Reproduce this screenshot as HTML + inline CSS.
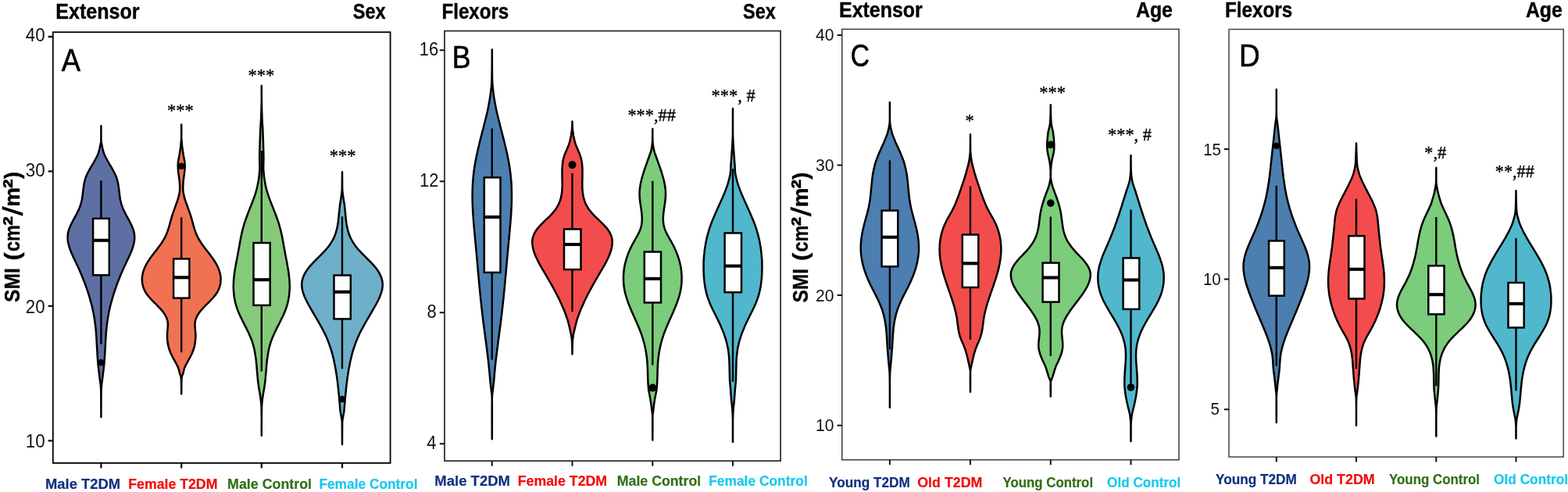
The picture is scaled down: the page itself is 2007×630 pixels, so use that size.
<!DOCTYPE html>
<html lang="en"><head><meta charset="utf-8"><title>SMI violin plots</title>
<style>html,body{margin:0;padding:0;background:#fff}body{width:2007px;height:630px;overflow:hidden}svg{display:block}.t{font-family:"Liberation Sans",sans-serif;font-weight:bold;fill:#000;stroke:#000;stroke-width:.4}.k{font-family:"Liberation Sans",sans-serif;fill:#111}.L{font-family:"Liberation Sans",sans-serif;fill:#000;stroke:#000;stroke-width:.6}.s{font-family:"Liberation Serif",serif;fill:#000;stroke:#000;stroke-width:.35}.x{font-family:"Liberation Sans",sans-serif;font-weight:bold;stroke-width:.2}.v{stroke:#000;stroke-width:2.5;stroke-linejoin:round}.w{stroke:#000;stroke-width:2.4;fill:none}.b{stroke:#000;stroke-width:2.5;fill:#fff}.m{stroke:#000;stroke-width:4.1;fill:none}</style></head><body>
<svg width="2007" height="630" viewBox="0 0 2007 630">
<rect width="2007" height="630" fill="#fff"/>
<g>
<path class="v" fill="#5e6fa3" d="M129.4 161.2C129.4 163.5 129.4 171.5 129.4 175.0C129.4 178.5 129.3 179.5 129.7 182.0C130.0 184.5 130.9 187.8 131.3 190.0C131.8 192.2 132.1 193.5 132.6 195.0C133.0 196.5 133.5 197.7 134.1 199.0C134.7 200.4 135.4 201.7 136.1 203.0C136.8 204.4 137.6 205.7 138.3 207.0C139.1 208.4 139.9 209.7 140.7 211.1C141.5 212.4 142.3 213.7 143.1 215.1C143.8 216.4 144.6 217.7 145.3 219.1C146.0 220.4 146.7 221.8 147.3 223.1C148.0 224.4 148.5 225.8 149.0 227.1C149.5 228.4 149.9 229.8 150.2 231.1C150.6 232.5 150.9 233.8 151.1 235.1C151.4 236.5 151.6 237.8 151.8 239.1C152.0 240.5 152.1 241.8 152.3 243.2C152.5 244.5 152.6 245.8 152.8 247.2C152.9 248.5 153.1 249.8 153.3 251.2C153.5 252.5 153.7 253.9 153.9 255.2C154.2 256.5 154.5 257.9 154.8 259.2C155.1 260.5 155.5 261.9 156.0 263.2C156.4 264.6 157.0 265.9 157.5 267.2C158.1 268.6 158.7 269.9 159.4 271.2C160.1 272.6 160.8 273.9 161.5 275.3C162.2 276.6 162.9 277.9 163.7 279.3C164.4 280.6 165.1 281.9 165.8 283.3C166.5 284.6 167.2 286.0 167.8 287.3C168.4 288.6 169.0 290.0 169.6 291.3C170.1 292.7 170.6 294.0 171.0 295.3C171.4 296.7 171.7 298.0 171.9 299.3C172.1 300.7 172.2 302.0 172.2 303.4C172.3 304.7 172.2 306.0 172.1 307.4C171.9 308.7 171.7 310.0 171.4 311.4C171.2 312.7 170.8 314.1 170.4 315.4C170.0 316.7 169.6 318.1 169.1 319.4C168.6 320.7 168.1 322.1 167.5 323.4C167.0 324.8 166.4 326.1 165.7 327.4C165.1 328.8 164.5 330.1 163.9 331.4C163.2 332.8 162.6 334.1 162.0 335.5C161.3 336.8 160.7 338.1 160.1 339.5C159.4 340.8 158.8 342.1 158.2 343.5C157.6 344.8 157.0 346.2 156.4 347.5C155.9 348.8 155.3 350.2 154.7 351.5C154.2 352.8 153.6 354.2 153.1 355.5C152.5 356.9 152.0 358.2 151.5 359.5C150.9 360.9 150.4 362.2 149.9 363.5C149.4 364.9 149.0 366.2 148.5 367.6C148.0 368.9 147.5 370.2 147.1 371.6C146.6 372.9 146.2 374.2 145.8 375.6C145.3 376.9 144.9 378.3 144.5 379.6C144.1 380.9 143.7 382.3 143.4 383.6C143.0 385.0 142.6 386.3 142.3 387.6C141.9 389.0 141.6 390.3 141.2 391.6C140.9 393.0 140.6 394.3 140.3 395.7C140.0 397.0 139.7 398.3 139.4 399.7C139.2 401.0 138.9 402.3 138.7 403.7C138.4 405.0 138.2 406.4 138.0 407.7C137.8 409.0 137.6 410.4 137.4 411.7C137.2 413.0 137.0 414.4 136.9 415.7C136.7 417.1 136.6 418.4 136.4 419.7C136.3 421.1 136.2 422.4 136.0 423.7C135.9 425.1 135.8 426.4 135.7 427.8C135.6 429.1 135.5 430.4 135.4 431.8C135.4 433.1 135.3 434.4 135.2 435.8C135.1 437.1 135.0 438.5 135.0 439.8C134.9 441.1 134.8 442.5 134.8 443.8C134.7 445.1 134.6 446.5 134.5 447.8C134.5 449.2 134.4 450.5 134.3 451.8C134.3 453.2 134.2 454.5 134.1 455.8C134.0 457.2 133.9 458.5 133.8 459.9C133.7 461.2 133.6 462.5 133.5 463.9C133.4 465.2 133.3 466.5 133.2 467.9C133.0 469.2 132.9 470.2 132.7 471.9C132.5 473.6 132.2 476.2 131.9 478.3C131.6 480.4 131.5 482.5 131.2 484.6C130.9 486.7 130.5 488.9 130.3 491.0C130.0 493.1 129.9 495.1 129.8 497.4C129.6 499.7 129.5 498.9 129.5 505.0C129.4 511.1 129.4 529.2 129.4 534.0C129.4 529.2 129.4 511.1 129.3 505.0C129.3 498.9 129.2 499.7 129.1 497.4C128.9 495.1 128.8 493.1 128.5 491.0C128.3 488.9 127.9 486.7 127.6 484.6C127.3 482.5 127.2 480.4 126.9 478.3C126.6 476.2 126.3 473.6 126.1 471.9C125.9 470.2 125.8 469.2 125.6 467.9C125.5 466.5 125.4 465.2 125.3 463.9C125.2 462.5 125.1 461.2 125.0 459.9C124.9 458.5 124.8 457.2 124.7 455.8C124.6 454.5 124.5 453.2 124.5 451.8C124.4 450.5 124.3 449.2 124.3 447.8C124.2 446.5 124.1 445.1 124.0 443.8C124.0 442.5 123.9 441.1 123.8 439.8C123.8 438.5 123.7 437.1 123.6 435.8C123.5 434.4 123.4 433.1 123.4 431.8C123.3 430.4 123.2 429.1 123.1 427.8C123.0 426.4 122.9 425.1 122.8 423.7C122.6 422.4 122.5 421.1 122.4 419.7C122.2 418.4 122.1 417.1 121.9 415.7C121.8 414.4 121.6 413.0 121.4 411.7C121.2 410.4 121.0 409.0 120.8 407.7C120.6 406.4 120.4 405.0 120.1 403.7C119.9 402.3 119.6 401.0 119.4 399.7C119.1 398.3 118.8 397.0 118.5 395.7C118.2 394.3 117.9 393.0 117.6 391.6C117.2 390.3 116.9 389.0 116.5 387.6C116.2 386.3 115.8 385.0 115.4 383.6C115.1 382.3 114.7 380.9 114.3 379.6C113.9 378.3 113.5 376.9 113.0 375.6C112.6 374.2 112.2 372.9 111.7 371.6C111.3 370.2 110.8 368.9 110.3 367.6C109.8 366.2 109.4 364.9 108.9 363.5C108.4 362.2 107.9 360.9 107.3 359.5C106.8 358.2 106.3 356.9 105.7 355.5C105.2 354.2 104.6 352.8 104.1 351.5C103.5 350.2 102.9 348.8 102.4 347.5C101.8 346.2 101.2 344.8 100.6 343.5C100.0 342.1 99.4 340.8 98.7 339.5C98.1 338.1 97.5 336.8 96.8 335.5C96.2 334.1 95.6 332.8 94.9 331.4C94.3 330.1 93.7 328.8 93.1 327.4C92.4 326.1 91.8 324.8 91.3 323.4C90.7 322.1 90.2 320.7 89.7 319.4C89.2 318.1 88.8 316.7 88.4 315.4C88.0 314.1 87.6 312.7 87.4 311.4C87.1 310.0 86.9 308.7 86.7 307.4C86.6 306.0 86.5 304.7 86.6 303.4C86.6 302.0 86.7 300.7 86.9 299.3C87.1 298.0 87.4 296.7 87.8 295.3C88.2 294.0 88.7 292.7 89.2 291.3C89.8 290.0 90.4 288.6 91.0 287.3C91.6 286.0 92.3 284.6 93.0 283.3C93.7 281.9 94.4 280.6 95.1 279.3C95.9 277.9 96.6 276.6 97.3 275.3C98.0 273.9 98.7 272.6 99.4 271.2C100.1 269.9 100.7 268.6 101.3 267.2C101.8 265.9 102.4 264.6 102.8 263.2C103.3 261.9 103.7 260.5 104.0 259.2C104.3 257.9 104.6 256.5 104.9 255.2C105.1 253.9 105.3 252.5 105.5 251.2C105.7 249.8 105.9 248.5 106.0 247.2C106.2 245.8 106.3 244.5 106.5 243.2C106.7 241.8 106.8 240.5 107.0 239.1C107.2 237.8 107.4 236.5 107.7 235.1C107.9 233.8 108.2 232.5 108.6 231.1C108.9 229.8 109.3 228.4 109.8 227.1C110.3 225.8 110.8 224.4 111.5 223.1C112.1 221.8 112.8 220.4 113.5 219.1C114.2 217.7 115.0 216.4 115.7 215.1C116.5 213.7 117.3 212.4 118.1 211.1C118.9 209.7 119.7 208.4 120.5 207.0C121.2 205.7 122.0 204.4 122.7 203.0C123.4 201.7 124.1 200.4 124.7 199.0C125.3 197.7 125.8 196.5 126.2 195.0C126.7 193.5 127.0 192.2 127.5 190.0C127.9 187.8 128.8 184.5 129.2 182.0C129.5 179.5 129.4 178.5 129.4 175.0C129.4 171.5 129.4 163.5 129.4 161.2Z"/>
<path class="w" d="M129.4 231.2V440.6"/>
<rect class="b" x="119.1" y="279.8" width="20.7" height="72.5"/>
<path class="m" d="M119.1 307.8H139.8"/>
<circle cx="129.4" cy="464.2" r="4.3" fill="#000"/>
<path class="v" fill="#f17252" d="M232.2 159.5C232.2 162.1 232.1 170.4 232.2 175.0C232.3 179.6 232.8 183.8 233.1 187.0C233.4 190.2 233.8 191.8 234.1 194.0C234.5 196.2 234.6 197.9 235.0 200.0C235.4 202.1 236.0 204.3 236.3 206.4C236.6 208.5 236.7 210.7 236.7 212.8C236.7 214.9 236.5 217.0 236.3 219.1C236.1 221.2 235.8 223.4 235.5 225.5C235.2 227.6 234.9 229.8 234.7 231.9C234.5 234.0 234.3 236.2 234.3 238.3C234.2 240.4 234.2 242.5 234.4 244.6C234.6 246.7 235.2 249.3 235.6 251.0C236.0 252.7 236.3 253.7 236.7 255.0C237.1 256.4 237.6 257.7 238.0 259.0C238.5 260.4 239.0 261.7 239.5 263.0C240.0 264.4 240.5 265.7 240.9 267.1C241.4 268.4 241.9 269.7 242.4 271.1C242.9 272.4 243.3 273.8 243.8 275.1C244.2 276.4 244.6 277.8 245.0 279.1C245.4 280.5 245.8 281.8 246.1 283.1C246.5 284.5 246.8 285.8 247.2 287.1C247.6 288.5 247.9 289.8 248.3 291.2C248.7 292.5 249.1 293.8 249.6 295.2C250.1 296.5 250.5 297.9 251.1 299.2C251.6 300.5 252.2 301.9 252.9 303.2C253.5 304.6 254.3 305.9 255.1 307.2C255.9 308.6 256.7 309.9 257.6 311.2C258.5 312.6 259.5 313.9 260.5 315.3C261.5 316.6 262.5 317.9 263.5 319.3C264.5 320.6 265.6 322.0 266.6 323.3C267.6 324.6 268.7 326.0 269.7 327.3C270.7 328.6 271.7 330.0 272.6 331.3C273.5 332.7 274.4 334.0 275.3 335.3C276.1 336.7 276.9 338.0 277.6 339.4C278.3 340.7 278.9 342.0 279.5 343.4C280.0 344.7 280.5 346.1 280.9 347.4C281.3 348.7 281.7 350.1 281.9 351.4C282.2 352.7 282.4 354.1 282.5 355.4C282.6 356.8 282.6 358.1 282.5 359.4C282.4 360.8 282.3 362.1 282.1 363.5C281.8 364.8 281.5 366.1 281.1 367.5C280.6 368.8 280.1 370.2 279.5 371.5C278.9 372.8 278.1 374.2 277.3 375.5C276.4 376.8 275.4 378.2 274.3 379.5C273.2 380.9 272.0 382.2 270.7 383.5C269.4 384.9 268.0 386.2 266.7 387.6C265.4 388.9 264.0 390.2 262.7 391.6C261.4 392.9 260.1 394.3 258.9 395.6C257.8 396.9 256.7 398.3 255.7 399.6C254.7 400.9 253.8 402.3 253.0 403.6C252.2 405.0 251.5 406.3 251.0 407.6C250.5 409.0 250.1 410.3 249.8 411.7C249.6 413.0 249.5 414.3 249.5 415.7C249.5 417.0 249.6 418.3 249.7 419.7C249.8 421.0 250.0 422.4 250.1 423.7C250.2 425.0 250.3 426.4 250.3 427.7C250.4 429.1 250.4 430.4 250.4 431.7C250.3 433.1 250.2 434.4 250.1 435.8C250.0 437.1 249.8 438.4 249.6 439.8C249.4 441.1 249.1 442.4 248.8 443.8C248.4 445.1 248.0 446.5 247.6 447.8C247.1 449.1 246.6 450.5 246.1 451.8C245.5 453.2 244.8 454.5 244.2 455.8C243.5 457.2 242.7 458.5 242.0 459.9C241.3 461.2 240.5 462.5 239.8 463.9C239.1 465.2 238.3 466.5 237.7 467.9C237.0 469.2 236.5 470.2 235.9 471.9C235.4 473.6 234.8 476.2 234.3 478.3C233.7 480.4 232.9 480.2 232.5 484.6C232.2 489.0 232.3 501.1 232.2 504.4C232.1 501.1 232.2 489.0 231.8 484.6C231.5 480.2 230.7 480.4 230.1 478.3C229.6 476.2 229.0 473.6 228.5 471.9C227.9 470.2 227.4 469.2 226.7 467.9C226.1 466.5 225.3 465.2 224.6 463.9C223.9 462.5 223.1 461.2 222.4 459.9C221.7 458.5 220.9 457.2 220.2 455.8C219.6 454.5 218.9 453.2 218.3 451.8C217.8 450.5 217.3 449.1 216.8 447.8C216.4 446.5 216.0 445.1 215.6 443.8C215.3 442.4 215.0 441.1 214.8 439.8C214.6 438.4 214.4 437.1 214.3 435.8C214.2 434.4 214.1 433.1 214.0 431.7C214.0 430.4 214.0 429.1 214.1 427.7C214.1 426.4 214.2 425.0 214.3 423.7C214.4 422.4 214.6 421.0 214.7 419.7C214.8 418.3 214.9 417.0 214.9 415.7C214.9 414.3 214.8 413.0 214.6 411.7C214.3 410.3 213.9 409.0 213.4 407.6C212.9 406.3 212.2 405.0 211.4 403.6C210.6 402.3 209.7 400.9 208.7 399.6C207.7 398.3 206.6 396.9 205.5 395.6C204.3 394.3 203.0 392.9 201.7 391.6C200.4 390.2 199.0 388.9 197.7 387.6C196.4 386.2 195.0 384.9 193.7 383.5C192.4 382.2 191.2 380.9 190.1 379.5C189.0 378.2 188.0 376.8 187.1 375.5C186.3 374.2 185.5 372.8 184.9 371.5C184.3 370.2 183.8 368.8 183.3 367.5C182.9 366.1 182.6 364.8 182.3 363.5C182.1 362.1 182.0 360.8 181.9 359.4C181.8 358.1 181.8 356.8 181.9 355.4C182.0 354.1 182.2 352.7 182.5 351.4C182.7 350.1 183.1 348.7 183.5 347.4C183.9 346.1 184.4 344.7 184.9 343.4C185.5 342.0 186.1 340.7 186.8 339.4C187.5 338.0 188.3 336.7 189.1 335.3C190.0 334.0 190.9 332.7 191.8 331.3C192.7 330.0 193.7 328.6 194.7 327.3C195.7 326.0 196.8 324.6 197.8 323.3C198.8 322.0 199.9 320.6 200.9 319.3C201.9 317.9 202.9 316.6 203.9 315.3C204.9 313.9 205.9 312.6 206.8 311.2C207.7 309.9 208.5 308.6 209.3 307.2C210.1 305.9 210.9 304.6 211.5 303.2C212.2 301.9 212.8 300.5 213.3 299.2C213.9 297.9 214.3 296.5 214.8 295.2C215.3 293.8 215.7 292.5 216.1 291.2C216.5 289.8 216.8 288.5 217.2 287.1C217.6 285.8 217.9 284.5 218.3 283.1C218.6 281.8 219.0 280.5 219.4 279.1C219.8 277.8 220.2 276.4 220.6 275.1C221.1 273.8 221.5 272.4 222.0 271.1C222.5 269.7 223.0 268.4 223.5 267.1C223.9 265.7 224.4 264.4 224.9 263.0C225.4 261.7 225.9 260.4 226.4 259.0C226.8 257.7 227.3 256.4 227.7 255.0C228.1 253.7 228.4 252.7 228.8 251.0C229.2 249.3 229.8 246.7 230.0 244.6C230.2 242.5 230.2 240.4 230.1 238.3C230.1 236.2 229.9 234.0 229.7 231.9C229.5 229.8 229.2 227.6 228.9 225.5C228.6 223.4 228.3 221.2 228.1 219.1C227.9 217.0 227.7 214.9 227.7 212.8C227.7 210.7 227.8 208.5 228.1 206.4C228.4 204.3 229.0 202.1 229.4 200.0C229.8 197.9 229.9 196.2 230.3 194.0C230.6 191.8 231.0 190.2 231.3 187.0C231.6 183.8 232.1 179.6 232.2 175.0C232.3 170.4 232.2 162.1 232.2 159.5Z"/>
<path class="w" d="M232.2 278.4V451.2"/>
<rect class="b" x="222.1" y="331.4" width="20.3" height="50.3"/>
<path class="m" d="M222.1 355.3H242.4"/>
<circle cx="232.2" cy="212.8" r="4.3" fill="#000"/>
<path class="v" fill="#86c97b" d="M334.8 109.7C334.8 113.1 334.7 123.3 334.9 130.0C335.0 136.7 335.2 144.4 335.4 150.0C335.6 155.6 336.0 159.2 336.2 163.5C336.4 167.8 336.6 171.8 336.7 176.0C336.9 180.2 337.0 184.6 337.1 188.8C337.2 193.1 337.4 197.3 337.4 201.5C337.4 205.7 337.2 211.4 337.2 214.2C337.1 217.0 337.2 216.9 337.3 218.2C337.4 219.6 337.5 220.9 337.6 222.2C337.7 223.6 337.9 224.9 338.0 226.3C338.2 227.6 338.4 228.9 338.6 230.3C338.8 231.6 339.0 233.0 339.3 234.3C339.6 235.6 339.8 237.0 340.1 238.3C340.4 239.7 340.8 241.0 341.1 242.3C341.5 243.7 341.8 245.0 342.2 246.3C342.6 247.7 343.0 249.0 343.5 250.4C343.9 251.7 344.4 253.0 344.9 254.4C345.4 255.7 345.9 257.1 346.4 258.4C346.9 259.7 347.4 261.1 348.0 262.4C348.5 263.8 349.0 265.1 349.6 266.4C350.1 267.8 350.6 269.1 351.2 270.5C351.7 271.8 352.2 273.1 352.7 274.5C353.2 275.8 353.7 277.2 354.2 278.5C354.7 279.8 355.2 281.2 355.7 282.5C356.1 283.9 356.6 285.2 357.0 286.5C357.4 287.9 357.8 289.2 358.1 290.6C358.5 291.9 358.9 293.2 359.2 294.6C359.5 295.9 359.8 297.3 360.1 298.6C360.4 299.9 360.7 301.3 361.0 302.6C361.3 303.9 361.5 305.3 361.8 306.6C362.0 308.0 362.3 309.3 362.5 310.6C362.8 312.0 363.0 313.3 363.2 314.7C363.5 316.0 363.7 317.3 364.0 318.7C364.2 320.0 364.4 321.4 364.7 322.7C364.9 324.0 365.2 325.4 365.4 326.7C365.7 328.1 366.0 329.4 366.2 330.7C366.5 332.1 366.7 333.4 367.0 334.8C367.2 336.1 367.5 337.4 367.7 338.8C368.0 340.1 368.2 341.5 368.4 342.8C368.7 344.1 368.9 345.5 369.1 346.8C369.3 348.2 369.5 349.5 369.6 350.8C369.8 352.2 370.0 353.5 370.1 354.9C370.3 356.2 370.4 357.5 370.5 358.9C370.6 360.2 370.6 361.5 370.7 362.9C370.7 364.2 370.8 365.6 370.8 366.9C370.8 368.2 370.7 369.6 370.7 370.9C370.6 372.3 370.5 373.6 370.4 374.9C370.3 376.3 370.1 377.6 370.0 379.0C369.8 380.3 369.6 381.6 369.3 383.0C369.1 384.3 368.8 385.7 368.5 387.0C368.2 388.3 367.8 389.7 367.4 391.0C367.0 392.4 366.6 393.7 366.1 395.0C365.7 396.4 365.2 397.7 364.6 399.1C364.1 400.4 363.5 401.7 362.9 403.1C362.3 404.4 361.7 405.8 361.0 407.1C360.4 408.4 359.7 409.8 359.0 411.1C358.4 412.4 357.7 413.8 357.0 415.1C356.3 416.5 355.6 417.8 354.9 419.1C354.2 420.5 353.6 421.8 352.9 423.2C352.3 424.5 351.6 425.8 351.0 427.2C350.4 428.5 349.8 429.9 349.2 431.2C348.7 432.5 348.1 433.9 347.6 435.2C347.1 436.6 346.7 437.9 346.3 439.2C345.8 440.6 345.5 441.9 345.1 443.3C344.8 444.6 344.4 445.9 344.1 447.3C343.8 448.6 343.6 450.0 343.3 451.3C343.1 452.6 342.9 454.0 342.7 455.3C342.4 456.7 342.3 458.0 342.1 459.3C341.9 460.7 341.8 462.0 341.6 463.4C341.5 464.7 341.4 466.0 341.2 467.4C341.1 468.7 341.0 470.0 340.9 471.4C340.8 472.7 340.7 474.1 340.6 475.4C340.4 476.7 340.3 478.1 340.2 479.4C340.1 480.8 340.0 482.1 339.9 483.4C339.7 484.8 339.6 486.1 339.5 487.5C339.3 488.8 339.2 490.1 339.0 491.5C338.8 492.8 338.7 493.8 338.4 495.5C338.2 497.2 337.7 499.8 337.3 501.9C336.9 504.0 336.6 506.2 336.3 508.3C336.0 510.4 335.8 512.5 335.5 514.6C335.3 516.7 335.2 517.6 335.1 521.0C334.9 524.4 334.9 528.9 334.9 535.0C334.8 541.1 334.8 553.9 334.8 557.7C334.8 553.9 334.8 541.1 334.8 535.0C334.7 528.9 334.7 524.4 334.6 521.0C334.4 517.6 334.3 516.7 334.1 514.6C333.8 512.5 333.6 510.4 333.3 508.3C333.0 506.2 332.7 504.0 332.3 501.9C331.9 499.8 331.4 497.2 331.2 495.5C330.9 493.8 330.8 492.8 330.6 491.5C330.4 490.1 330.3 488.8 330.1 487.5C330.0 486.1 329.9 484.8 329.7 483.4C329.6 482.1 329.5 480.8 329.4 479.4C329.3 478.1 329.2 476.7 329.0 475.4C328.9 474.1 328.8 472.7 328.7 471.4C328.6 470.0 328.5 468.7 328.4 467.4C328.2 466.0 328.1 464.7 328.0 463.4C327.8 462.0 327.7 460.7 327.5 459.3C327.3 458.0 327.2 456.7 326.9 455.3C326.7 454.0 326.5 452.6 326.3 451.3C326.0 450.0 325.8 448.6 325.5 447.3C325.2 445.9 324.8 444.6 324.5 443.3C324.1 441.9 323.8 440.6 323.3 439.2C322.9 437.9 322.5 436.6 322.0 435.2C321.5 433.9 320.9 432.5 320.4 431.2C319.8 429.9 319.2 428.5 318.6 427.2C318.0 425.8 317.3 424.5 316.7 423.2C316.0 421.8 315.4 420.5 314.7 419.1C314.0 417.8 313.3 416.5 312.6 415.1C311.9 413.8 311.2 412.4 310.6 411.1C309.9 409.8 309.2 408.4 308.6 407.1C307.9 405.8 307.3 404.4 306.7 403.1C306.1 401.7 305.5 400.4 305.0 399.1C304.4 397.7 303.9 396.4 303.5 395.0C303.0 393.7 302.6 392.4 302.2 391.0C301.8 389.7 301.4 388.3 301.1 387.0C300.8 385.7 300.5 384.3 300.3 383.0C300.0 381.6 299.8 380.3 299.6 379.0C299.5 377.6 299.3 376.3 299.2 374.9C299.1 373.6 299.0 372.3 298.9 370.9C298.9 369.6 298.8 368.2 298.8 366.9C298.8 365.6 298.9 364.2 298.9 362.9C299.0 361.5 299.0 360.2 299.1 358.9C299.2 357.5 299.3 356.2 299.5 354.9C299.6 353.5 299.8 352.2 300.0 350.8C300.1 349.5 300.3 348.2 300.5 346.8C300.7 345.5 300.9 344.1 301.2 342.8C301.4 341.5 301.6 340.1 301.9 338.8C302.1 337.4 302.4 336.1 302.6 334.8C302.9 333.4 303.1 332.1 303.4 330.7C303.6 329.4 303.9 328.1 304.2 326.7C304.4 325.4 304.7 324.0 304.9 322.7C305.2 321.4 305.4 320.0 305.6 318.7C305.9 317.3 306.1 316.0 306.4 314.7C306.6 313.3 306.8 312.0 307.1 310.6C307.3 309.3 307.6 308.0 307.8 306.6C308.1 305.3 308.3 303.9 308.6 302.6C308.9 301.3 309.2 299.9 309.5 298.6C309.8 297.3 310.1 295.9 310.4 294.6C310.7 293.2 311.1 291.9 311.5 290.6C311.8 289.2 312.2 287.9 312.6 286.5C313.0 285.2 313.5 283.9 313.9 282.5C314.4 281.2 314.9 279.8 315.4 278.5C315.9 277.2 316.4 275.8 316.9 274.5C317.4 273.1 317.9 271.8 318.4 270.5C319.0 269.1 319.5 267.8 320.0 266.4C320.6 265.1 321.1 263.8 321.6 262.4C322.2 261.1 322.7 259.7 323.2 258.4C323.7 257.1 324.2 255.7 324.7 254.4C325.2 253.0 325.7 251.7 326.1 250.4C326.6 249.0 327.0 247.7 327.4 246.3C327.8 245.0 328.1 243.7 328.5 242.3C328.8 241.0 329.2 239.7 329.5 238.3C329.8 237.0 330.0 235.6 330.3 234.3C330.6 233.0 330.8 231.6 331.0 230.3C331.2 228.9 331.4 227.6 331.6 226.3C331.7 224.9 331.9 223.6 332.0 222.2C332.1 220.9 332.2 219.6 332.3 218.2C332.4 216.9 332.5 217.0 332.4 214.2C332.4 211.4 332.2 205.7 332.2 201.5C332.2 197.3 332.4 193.1 332.5 188.8C332.6 184.6 332.7 180.2 332.9 176.0C333.0 171.8 333.2 167.8 333.4 163.5C333.6 159.2 334.0 155.6 334.2 150.0C334.4 144.4 334.6 136.7 334.8 130.0C334.9 123.3 334.8 113.1 334.8 109.7Z"/>
<path class="w" d="M334.8 192.9V475.4"/>
<rect class="b" x="324.5" y="311.0" width="21.2" height="79.9"/>
<path class="m" d="M324.5 358.2H345.7"/>
<path class="v" fill="#6eafc9" d="M438.0 220.3C438.0 221.9 438.0 226.2 438.1 230.0C438.1 233.8 438.1 239.6 438.2 242.8C438.4 246.0 438.6 247.0 438.9 249.1C439.1 251.2 439.5 253.4 439.8 255.5C440.1 257.6 440.6 260.2 440.9 261.9C441.1 263.6 441.2 264.6 441.3 265.9C441.5 267.2 441.6 268.5 441.7 269.9C441.9 271.2 442.0 272.5 442.1 273.9C442.2 275.2 442.3 276.5 442.5 277.8C442.6 279.2 442.7 280.5 442.9 281.8C443.0 283.2 443.2 284.5 443.4 285.8C443.6 287.1 443.8 288.5 444.1 289.8C444.4 291.1 444.6 292.5 445.0 293.8C445.3 295.1 445.7 296.4 446.1 297.8C446.5 299.1 447.0 300.4 447.5 301.8C448.0 303.1 448.6 304.4 449.3 305.7C450.0 307.1 450.7 308.4 451.5 309.7C452.3 311.1 453.2 312.4 454.1 313.7C455.1 315.0 456.1 316.4 457.2 317.7C458.3 319.0 459.5 320.4 460.7 321.7C461.9 323.0 463.2 324.3 464.5 325.7C465.8 327.0 467.1 328.3 468.5 329.7C469.8 331.0 471.2 332.3 472.5 333.7C473.8 335.0 475.1 336.3 476.3 337.6C477.6 339.0 478.8 340.3 479.9 341.6C481.0 343.0 482.0 344.3 482.9 345.6C483.9 346.9 484.7 348.3 485.5 349.6C486.2 350.9 486.9 352.3 487.4 353.6C488.0 354.9 488.5 356.2 488.8 357.6C489.2 358.9 489.4 360.2 489.6 361.6C489.7 362.9 489.8 364.2 489.7 365.5C489.7 366.9 489.5 368.2 489.3 369.5C489.1 370.9 488.8 372.2 488.4 373.5C488.1 374.8 487.6 376.2 487.1 377.5C486.6 378.8 486.1 380.2 485.5 381.5C484.9 382.8 484.2 384.1 483.6 385.5C482.9 386.8 482.2 388.1 481.5 389.5C480.8 390.8 480.0 392.1 479.3 393.4C478.5 394.8 477.8 396.1 477.0 397.4C476.2 398.8 475.5 400.1 474.7 401.4C473.9 402.7 473.1 404.1 472.3 405.4C471.6 406.7 470.8 408.1 470.0 409.4C469.2 410.7 468.5 412.0 467.7 413.4C466.9 414.7 466.2 416.0 465.4 417.4C464.7 418.7 464.0 420.0 463.3 421.3C462.6 422.7 461.9 424.0 461.2 425.3C460.6 426.7 459.9 428.0 459.3 429.3C458.7 430.6 458.1 432.0 457.5 433.3C457.0 434.6 456.4 436.0 455.9 437.3C455.4 438.6 454.9 439.9 454.4 441.3C454.0 442.6 453.5 443.9 453.1 445.3C452.6 446.6 452.2 447.9 451.8 449.2C451.4 450.6 451.1 451.9 450.7 453.2C450.3 454.6 450.0 455.9 449.7 457.2C449.3 458.6 449.0 459.9 448.7 461.2C448.4 462.5 448.1 463.9 447.9 465.2C447.6 466.5 447.3 467.9 447.1 469.2C446.8 470.5 446.6 471.8 446.3 473.2C446.1 474.5 445.9 475.8 445.7 477.2C445.5 478.5 445.3 479.8 445.1 481.1C444.9 482.5 444.7 483.8 444.5 485.1C444.3 486.5 444.2 487.8 444.0 489.1C443.8 490.4 443.7 491.8 443.5 493.1C443.4 494.4 443.2 495.8 443.1 497.1C443.0 498.4 442.8 499.7 442.7 501.1C442.6 502.4 442.4 503.7 442.3 505.1C442.2 506.4 442.1 507.7 441.9 509.0C441.8 510.4 441.7 511.7 441.6 513.0C441.5 514.4 441.4 515.7 441.2 517.0C441.1 518.3 441.0 519.3 440.9 521.0C440.7 522.7 440.6 525.3 440.3 527.4C440.0 529.5 439.5 531.7 439.1 533.8C438.8 535.9 438.4 537.5 438.2 540.2C438.1 542.9 438.1 545.2 438.1 550.0C438.0 554.8 438.0 565.8 438.0 569.0C438.0 565.8 438.0 554.8 437.9 550.0C437.9 545.2 437.9 542.9 437.8 540.2C437.6 537.5 437.2 535.9 436.9 533.8C436.5 531.7 436.0 529.5 435.7 527.4C435.4 525.3 435.3 522.7 435.1 521.0C435.0 519.3 434.9 518.3 434.8 517.0C434.6 515.7 434.5 514.4 434.4 513.0C434.3 511.7 434.2 510.4 434.1 509.0C433.9 507.7 433.8 506.4 433.7 505.1C433.6 503.7 433.4 502.4 433.3 501.1C433.2 499.7 433.0 498.4 432.9 497.1C432.8 495.8 432.6 494.4 432.5 493.1C432.3 491.8 432.2 490.4 432.0 489.1C431.8 487.8 431.7 486.5 431.5 485.1C431.3 483.8 431.1 482.5 430.9 481.1C430.7 479.8 430.5 478.5 430.3 477.2C430.1 475.8 429.9 474.5 429.7 473.2C429.4 471.8 429.2 470.5 428.9 469.2C428.7 467.9 428.4 466.5 428.1 465.2C427.9 463.9 427.6 462.5 427.3 461.2C427.0 459.9 426.7 458.6 426.3 457.2C426.0 455.9 425.7 454.6 425.3 453.2C424.9 451.9 424.6 450.6 424.2 449.2C423.8 447.9 423.4 446.6 422.9 445.3C422.5 443.9 422.0 442.6 421.6 441.3C421.1 439.9 420.6 438.6 420.1 437.3C419.6 436.0 419.0 434.6 418.5 433.3C417.9 432.0 417.3 430.6 416.7 429.3C416.1 428.0 415.4 426.7 414.8 425.3C414.1 424.0 413.4 422.7 412.7 421.3C412.0 420.0 411.3 418.7 410.6 417.4C409.8 416.0 409.1 414.7 408.3 413.4C407.5 412.0 406.8 410.7 406.0 409.4C405.2 408.1 404.4 406.7 403.7 405.4C402.9 404.1 402.1 402.7 401.3 401.4C400.5 400.1 399.8 398.8 399.0 397.4C398.2 396.1 397.5 394.8 396.7 393.4C396.0 392.1 395.2 390.8 394.5 389.5C393.8 388.1 393.1 386.8 392.4 385.5C391.8 384.1 391.1 382.8 390.5 381.5C389.9 380.2 389.4 378.8 388.9 377.5C388.4 376.2 387.9 374.8 387.6 373.5C387.2 372.2 386.9 370.9 386.7 369.5C386.5 368.2 386.3 366.9 386.3 365.5C386.2 364.2 386.3 362.9 386.4 361.6C386.6 360.2 386.8 358.9 387.2 357.6C387.5 356.2 388.0 354.9 388.6 353.6C389.1 352.3 389.8 350.9 390.5 349.6C391.3 348.3 392.1 346.9 393.1 345.6C394.0 344.3 395.0 343.0 396.1 341.6C397.2 340.3 398.4 339.0 399.7 337.6C400.9 336.3 402.2 335.0 403.5 333.7C404.8 332.3 406.2 331.0 407.5 329.7C408.9 328.3 410.2 327.0 411.5 325.7C412.8 324.3 414.1 323.0 415.3 321.7C416.5 320.4 417.7 319.0 418.8 317.7C419.9 316.4 420.9 315.0 421.9 313.7C422.8 312.4 423.7 311.1 424.5 309.7C425.3 308.4 426.0 307.1 426.7 305.7C427.4 304.4 428.0 303.1 428.5 301.8C429.0 300.4 429.5 299.1 429.9 297.8C430.3 296.4 430.7 295.1 431.0 293.8C431.4 292.5 431.6 291.1 431.9 289.8C432.2 288.5 432.4 287.1 432.6 285.8C432.8 284.5 433.0 283.2 433.1 281.8C433.3 280.5 433.4 279.2 433.5 277.8C433.7 276.5 433.8 275.2 433.9 273.9C434.0 272.5 434.1 271.2 434.3 269.9C434.4 268.5 434.5 267.2 434.7 265.9C434.8 264.6 434.9 263.6 435.1 261.9C435.4 260.2 435.9 257.6 436.2 255.5C436.5 253.4 436.9 251.2 437.1 249.1C437.4 247.0 437.6 246.0 437.8 242.8C437.9 239.6 437.9 233.8 437.9 230.0C438.0 226.2 438.0 221.9 438.0 220.3Z"/>
<path class="w" d="M438.0 277.2V472.3"/>
<rect class="b" x="427.5" y="352.5" width="21.3" height="55.9"/>
<path class="m" d="M427.5 373.8H448.8"/>
<circle cx="438.0" cy="511.1" r="4.3" fill="#000"/>
<rect x="67.8" y="41.2" width="431.8" height="551.7" fill="none" stroke="#0a0a0a" stroke-width="1.9"/>
<path d="M67.8 47.0h-6.2M67.8 219.4h-6.2M67.8 391.9h-6.2M67.8 564.3h-6.2M129.4 592.9v6.5M232.2 592.9v6.5M334.8 592.9v6.5M438.0 592.9v6.5" stroke="#111" stroke-width="2.3" fill="none"/>
<text class="t" transform="translate(71.20 23.80) scale(0.9330 1)" font-size="26.9">Extensor</text>
<text class="t" transform="translate(451.86 23.80) scale(0.8737 1)" font-size="26.9">Sex</text>
<text class="L" transform="translate(78.82 90.50) scale(0.8821 1)" font-size="41.3">A</text>
<text class="k" transform="translate(32.85 53.45) scale(0.9300 1)" font-size="24">40</text>
<text class="k" transform="translate(32.85 226.35) scale(0.9300 1)" font-size="24">30</text>
<text class="k" transform="translate(32.85 400.65) scale(0.9300 1)" font-size="24">20</text>
<text class="k" transform="translate(32.85 572.75) scale(0.9300 1)" font-size="24">10</text>
<text class="s" transform="translate(213.93 148.50)" font-size="22.5">***</text>
<text class="s" transform="translate(317.52 103.80)" font-size="22.5">***</text>
<text class="s" transform="translate(421.73 207.40)" font-size="22.5">***</text>
<text class="x" transform="translate(58.06 626.00) scale(1.0440 1)" font-size="17.6" fill="#12307f" stroke="#12307f">Male T2DM</text>
<text class="x" transform="translate(164.29 626.00) scale(1.0067 1)" font-size="17.6" fill="#f20a0a" stroke="#f20a0a">Female T2DM</text>
<text class="x" transform="translate(291.09 626.00) scale(1.0134 1)" font-size="17.6" fill="#316f15" stroke="#316f15">Male Control</text>
<text class="x" transform="translate(408.42 626.00) scale(0.9841 1)" font-size="17.6" fill="#18c8ee" stroke="#18c8ee">Female Control</text>
<text class="t" transform="translate(24.60 0) rotate(-90)" xml:space="preserve"><tspan x="-386.94" y="0.00" font-size="28" textLength="43.70" lengthAdjust="spacingAndGlyphs">SMI</tspan><tspan font-size="28"> </tspan><tspan x="-333.49" y="0.00" font-size="28" textLength="10.40" lengthAdjust="spacingAndGlyphs">(</tspan><tspan x="-321.94" y="0.00" font-size="28" textLength="33.87" lengthAdjust="spacingAndGlyphs">cm</tspan><tspan x="-289.06" y="2.00" font-size="32" textLength="12.02" lengthAdjust="spacingAndGlyphs">²</tspan><tspan x="-276.30" y="4.00" font-size="35" textLength="11.87" lengthAdjust="spacingAndGlyphs" font-weight="normal" stroke-width=".6">/</tspan><tspan x="-264.74" y="0.00" font-size="28" textLength="24.79" lengthAdjust="spacingAndGlyphs">m</tspan><tspan x="-241.16" y="2.00" font-size="32" textLength="12.02" lengthAdjust="spacingAndGlyphs">²</tspan><tspan x="-229.06" y="0.00" font-size="28" textLength="9.11" lengthAdjust="spacingAndGlyphs">)</tspan></text>
</g>
<g>
<path class="v" fill="#4c7eaf" d="M629.8 63.6C629.8 69.6 629.9 91.7 630.0 99.8C630.2 107.9 630.4 108.0 630.8 112.2C631.2 116.4 631.7 120.5 632.3 124.7C633.0 128.9 634.1 134.4 634.6 137.2C635.1 140.0 635.1 139.9 635.4 141.2C635.7 142.6 636.0 143.9 636.3 145.2C636.6 146.6 637.0 147.9 637.3 149.3C637.6 150.6 637.9 151.9 638.3 153.3C638.6 154.6 638.9 156.0 639.3 157.3C639.6 158.6 640.0 160.0 640.3 161.3C640.7 162.7 641.0 164.0 641.3 165.3C641.7 166.7 642.0 168.0 642.4 169.4C642.7 170.7 643.1 172.1 643.4 173.4C643.8 174.7 644.1 176.1 644.5 177.4C644.8 178.8 645.1 180.1 645.5 181.4C645.8 182.8 646.1 184.1 646.4 185.5C646.8 186.8 647.1 188.1 647.4 189.5C647.7 190.8 648.0 192.2 648.3 193.5C648.6 194.8 648.9 196.2 649.2 197.5C649.5 198.9 649.8 200.2 650.0 201.5C650.3 202.9 650.6 204.2 650.8 205.6C651.1 206.9 651.3 208.2 651.5 209.6C651.8 210.9 652.0 212.3 652.2 213.6C652.4 214.9 652.6 216.3 652.8 217.6C653.0 219.0 653.2 220.3 653.3 221.6C653.5 223.0 653.6 224.3 653.8 225.7C653.9 227.0 654.0 228.4 654.1 229.7C654.3 231.0 654.4 232.4 654.4 233.7C654.5 235.1 654.6 236.4 654.7 237.7C654.7 239.1 654.8 240.4 654.8 241.8C654.9 243.1 654.9 244.4 654.9 245.8C654.9 247.1 655.0 248.5 655.0 249.8C655.0 251.1 655.0 252.5 654.9 253.8C654.9 255.2 654.9 256.5 654.9 257.8C654.8 259.2 654.8 260.5 654.8 261.9C654.7 263.2 654.7 264.5 654.6 265.9C654.5 267.2 654.5 268.6 654.4 269.9C654.3 271.2 654.2 272.6 654.2 273.9C654.1 275.3 654.0 276.6 653.9 277.9C653.8 279.3 653.7 280.6 653.6 282.0C653.5 283.3 653.4 284.7 653.3 286.0C653.2 287.3 653.0 288.7 652.9 290.0C652.8 291.4 652.7 292.7 652.6 294.0C652.5 295.4 652.3 296.7 652.2 298.1C652.1 299.4 652.0 300.7 651.8 302.1C651.7 303.4 651.6 304.8 651.5 306.1C651.3 307.4 651.2 308.8 651.1 310.1C650.9 311.5 650.8 312.8 650.7 314.1C650.6 315.5 650.5 316.8 650.3 318.2C650.2 319.5 650.1 320.8 650.0 322.2C649.8 323.5 649.7 324.9 649.6 326.2C649.5 327.5 649.4 328.9 649.2 330.2C649.1 331.6 649.0 332.9 648.9 334.2C648.8 335.6 648.7 336.9 648.5 338.3C648.4 339.6 648.3 341.0 648.2 342.3C648.1 343.6 647.9 345.0 647.8 346.3C647.7 347.7 647.6 349.0 647.5 350.3C647.3 351.7 647.2 353.0 647.1 354.4C647.0 355.7 646.9 357.0 646.7 358.4C646.6 359.7 646.5 361.1 646.4 362.4C646.2 363.7 646.1 365.1 646.0 366.4C645.9 367.8 645.7 369.1 645.6 370.4C645.5 371.8 645.3 373.1 645.2 374.5C645.1 375.8 645.0 377.1 644.8 378.5C644.7 379.8 644.5 381.2 644.4 382.5C644.3 383.8 644.1 385.2 644.0 386.5C643.8 387.9 643.7 389.2 643.5 390.5C643.4 391.9 643.3 393.2 643.1 394.6C642.9 395.9 642.8 397.3 642.6 398.6C642.5 399.9 642.3 401.3 642.2 402.6C642.0 404.0 641.8 405.3 641.7 406.6C641.5 408.0 641.3 409.3 641.2 410.7C641.0 412.0 640.8 413.3 640.7 414.7C640.5 416.0 640.3 417.4 640.1 418.7C640.0 420.0 639.8 421.4 639.6 422.7C639.4 424.1 639.3 425.4 639.1 426.7C638.9 428.1 638.7 429.4 638.6 430.8C638.4 432.1 638.2 433.4 638.0 434.8C637.8 436.1 637.7 437.5 637.5 438.8C637.3 440.1 637.2 441.5 637.0 442.8C636.8 444.2 636.6 445.5 636.5 446.8C636.3 448.2 636.1 449.5 636.0 450.9C635.8 452.2 635.6 453.6 635.5 454.9C635.3 456.2 635.1 457.6 635.0 458.9C634.8 460.3 634.7 461.6 634.5 462.9C634.4 464.3 634.2 465.6 634.1 467.0C633.9 468.3 633.8 469.6 633.7 471.0C633.5 472.3 633.5 472.3 633.3 475.0C633.0 477.7 632.6 483.2 632.2 487.4C631.8 491.6 631.2 495.9 630.8 500.0C630.4 504.1 630.0 501.9 629.8 512.3C629.6 522.7 629.8 553.9 629.8 562.2C629.8 553.9 630.0 522.7 629.8 512.3C629.6 501.9 629.2 504.1 628.8 500.0C628.4 495.9 627.8 491.6 627.4 487.4C627.0 483.2 626.6 477.7 626.3 475.0C626.1 472.3 626.1 472.3 625.9 471.0C625.8 469.6 625.7 468.3 625.5 467.0C625.4 465.6 625.2 464.3 625.1 462.9C624.9 461.6 624.8 460.3 624.6 458.9C624.5 457.6 624.3 456.2 624.1 454.9C624.0 453.6 623.8 452.2 623.6 450.9C623.5 449.5 623.3 448.2 623.1 446.8C623.0 445.5 622.8 444.2 622.6 442.8C622.4 441.5 622.3 440.1 622.1 438.8C621.9 437.5 621.8 436.1 621.6 434.8C621.4 433.4 621.2 432.1 621.0 430.8C620.9 429.4 620.7 428.1 620.5 426.7C620.3 425.4 620.2 424.1 620.0 422.7C619.8 421.4 619.6 420.0 619.5 418.7C619.3 417.4 619.1 416.0 618.9 414.7C618.8 413.3 618.6 412.0 618.4 410.7C618.3 409.3 618.1 408.0 617.9 406.6C617.8 405.3 617.6 404.0 617.4 402.6C617.3 401.3 617.1 399.9 617.0 398.6C616.8 397.3 616.7 395.9 616.5 394.6C616.3 393.2 616.2 391.9 616.1 390.5C615.9 389.2 615.8 387.9 615.6 386.5C615.5 385.2 615.3 383.8 615.2 382.5C615.1 381.2 614.9 379.8 614.8 378.5C614.6 377.1 614.5 375.8 614.4 374.5C614.3 373.1 614.1 371.8 614.0 370.4C613.9 369.1 613.7 367.8 613.6 366.4C613.5 365.1 613.4 363.7 613.2 362.4C613.1 361.1 613.0 359.7 612.9 358.4C612.7 357.0 612.6 355.7 612.5 354.4C612.4 353.0 612.3 351.7 612.1 350.3C612.0 349.0 611.9 347.7 611.8 346.3C611.7 345.0 611.5 343.6 611.4 342.3C611.3 341.0 611.2 339.6 611.1 338.3C610.9 336.9 610.8 335.6 610.7 334.2C610.6 332.9 610.5 331.6 610.4 330.2C610.2 328.9 610.1 327.5 610.0 326.2C609.9 324.9 609.8 323.5 609.6 322.2C609.5 320.8 609.4 319.5 609.3 318.2C609.1 316.8 609.0 315.5 608.9 314.1C608.8 312.8 608.7 311.5 608.5 310.1C608.4 308.8 608.3 307.4 608.1 306.1C608.0 304.8 607.9 303.4 607.8 302.1C607.6 300.7 607.5 299.4 607.4 298.1C607.3 296.7 607.1 295.4 607.0 294.0C606.9 292.7 606.8 291.4 606.7 290.0C606.6 288.7 606.4 287.3 606.3 286.0C606.2 284.7 606.1 283.3 606.0 282.0C605.9 280.6 605.8 279.3 605.7 277.9C605.6 276.6 605.5 275.3 605.4 273.9C605.4 272.6 605.3 271.2 605.2 269.9C605.1 268.6 605.1 267.2 605.0 265.9C604.9 264.5 604.9 263.2 604.8 261.9C604.8 260.5 604.8 259.2 604.7 257.8C604.7 256.5 604.7 255.2 604.7 253.8C604.6 252.5 604.6 251.1 604.6 249.8C604.6 248.5 604.7 247.1 604.7 245.8C604.7 244.4 604.7 243.1 604.8 241.8C604.8 240.4 604.9 239.1 604.9 237.7C605.0 236.4 605.1 235.1 605.2 233.7C605.2 232.4 605.3 231.0 605.5 229.7C605.6 228.4 605.7 227.0 605.8 225.7C606.0 224.3 606.1 223.0 606.3 221.6C606.4 220.3 606.6 219.0 606.8 217.6C607.0 216.3 607.2 214.9 607.4 213.6C607.6 212.3 607.8 210.9 608.1 209.6C608.3 208.2 608.5 206.9 608.8 205.6C609.0 204.2 609.3 202.9 609.6 201.5C609.8 200.2 610.1 198.9 610.4 197.5C610.7 196.2 611.0 194.8 611.3 193.5C611.6 192.2 611.9 190.8 612.2 189.5C612.5 188.1 612.8 186.8 613.2 185.5C613.5 184.1 613.8 182.8 614.1 181.4C614.5 180.1 614.8 178.8 615.1 177.4C615.5 176.1 615.8 174.7 616.2 173.4C616.5 172.1 616.9 170.7 617.2 169.4C617.6 168.0 617.9 166.7 618.3 165.3C618.6 164.0 618.9 162.7 619.3 161.3C619.6 160.0 620.0 158.6 620.3 157.3C620.7 156.0 621.0 154.6 621.3 153.3C621.7 151.9 622.0 150.6 622.3 149.3C622.6 147.9 623.0 146.6 623.3 145.2C623.6 143.9 623.9 142.6 624.2 141.2C624.5 139.9 624.5 140.0 625.0 137.2C625.5 134.4 626.6 128.9 627.2 124.7C627.9 120.5 628.4 116.4 628.8 112.2C629.2 108.0 629.4 107.9 629.5 99.8C629.7 91.7 629.8 69.6 629.8 63.6Z"/>
<path class="w" d="M629.8 164.5V460.5"/>
<rect class="b" x="619.8" y="227.3" width="20.7" height="121.6"/>
<path class="m" d="M619.8 277.9H640.5"/>
<path class="v" fill="#f24d4c" d="M732.5 155.6C732.5 156.5 732.6 159.3 732.7 161.0C732.8 162.7 732.8 164.5 733.0 166.0C733.1 167.5 733.2 168.7 733.5 170.0C733.7 171.3 733.9 172.7 734.1 174.0C734.4 175.3 734.8 176.7 735.0 178.0C735.3 179.3 735.5 180.7 735.9 182.0C736.2 183.3 736.7 184.6 737.2 186.0C737.7 187.3 738.3 188.6 738.9 189.9C739.5 191.3 740.1 192.6 740.6 193.9C741.2 195.2 741.7 196.6 742.2 197.9C742.7 199.2 743.1 200.5 743.5 201.8C743.8 203.2 744.1 204.5 744.4 205.8C744.6 207.1 744.8 208.5 745.0 209.8C745.1 211.1 745.2 212.4 745.3 213.8C745.4 215.1 745.4 216.4 745.5 217.7C745.5 219.0 745.5 220.4 745.5 221.7C745.5 223.0 745.5 224.3 745.5 225.7C745.4 227.0 745.4 228.3 745.4 229.6C745.3 231.0 745.3 232.3 745.3 233.6C745.3 234.9 745.3 236.2 745.3 237.6C745.3 238.9 745.4 240.2 745.4 241.5C745.5 242.9 745.6 244.2 745.7 245.5C745.9 246.8 746.1 248.1 746.3 249.5C746.5 250.8 746.8 252.1 747.1 253.4C747.5 254.8 747.9 256.1 748.3 257.4C748.8 258.7 749.3 260.1 749.9 261.4C750.6 262.7 751.3 264.0 752.1 265.3C752.9 266.7 753.7 268.0 754.7 269.3C755.8 270.6 756.9 272.0 758.1 273.3C759.3 274.6 760.6 275.9 761.9 277.3C763.2 278.6 764.6 279.9 766.0 281.2C767.3 282.5 768.7 283.9 770.1 285.2C771.4 286.5 772.7 287.8 773.9 289.2C775.1 290.5 776.3 291.8 777.3 293.1C778.4 294.5 779.3 295.8 780.1 297.1C780.8 298.4 781.5 299.7 782.0 301.1C782.5 302.4 782.9 303.7 783.2 305.0C783.4 306.4 783.6 307.7 783.7 309.0C783.8 310.3 783.7 311.7 783.6 313.0C783.5 314.3 783.3 315.6 783.0 316.9C782.8 318.3 782.4 319.6 782.0 320.9C781.6 322.2 781.2 323.6 780.7 324.9C780.2 326.2 779.6 327.5 779.0 328.9C778.4 330.2 777.8 331.5 777.2 332.8C776.5 334.1 775.8 335.5 775.1 336.8C774.4 338.1 773.7 339.4 772.9 340.8C772.2 342.1 771.4 343.4 770.7 344.7C769.9 346.1 769.1 347.4 768.3 348.7C767.6 350.0 766.8 351.3 766.0 352.7C765.2 354.0 764.4 355.3 763.7 356.6C762.9 358.0 762.1 359.3 761.4 360.6C760.6 361.9 759.9 363.2 759.1 364.6C758.4 365.9 757.7 367.2 756.9 368.5C756.2 369.9 755.5 371.2 754.8 372.5C754.1 373.8 753.4 375.2 752.7 376.5C752.0 377.8 751.4 379.1 750.7 380.4C750.0 381.8 749.4 383.1 748.7 384.4C748.1 385.7 747.5 387.1 746.9 388.4C746.3 389.7 745.7 391.0 745.1 392.4C744.5 393.7 744.0 395.0 743.4 396.3C742.9 397.6 742.3 399.0 741.8 400.3C741.3 401.6 740.8 402.9 740.4 404.3C739.9 405.6 739.4 406.9 739.0 408.2C738.6 409.6 738.5 409.5 737.8 412.2C737.1 414.9 735.5 421.4 734.8 424.7C734.0 428.0 733.7 429.4 733.4 432.0C733.0 434.6 732.9 436.4 732.8 440.0C732.6 443.6 732.5 451.2 732.5 453.4C732.5 451.2 732.4 443.6 732.2 440.0C732.1 436.4 732.0 434.6 731.6 432.0C731.3 429.4 731.0 428.0 730.2 424.7C729.5 421.4 727.9 414.9 727.2 412.2C726.5 409.5 726.4 409.6 726.0 408.2C725.6 406.9 725.1 405.6 724.6 404.3C724.2 402.9 723.7 401.6 723.2 400.3C722.7 399.0 722.1 397.6 721.6 396.3C721.0 395.0 720.5 393.7 719.9 392.4C719.3 391.0 718.7 389.7 718.1 388.4C717.5 387.1 716.9 385.7 716.3 384.4C715.6 383.1 715.0 381.8 714.3 380.4C713.6 379.1 713.0 377.8 712.3 376.5C711.6 375.2 710.9 373.8 710.2 372.5C709.5 371.2 708.8 369.9 708.1 368.5C707.3 367.2 706.6 365.9 705.9 364.6C705.1 363.2 704.4 361.9 703.6 360.6C702.9 359.3 702.1 358.0 701.3 356.6C700.6 355.3 699.8 354.0 699.0 352.7C698.2 351.3 697.4 350.0 696.7 348.7C695.9 347.4 695.1 346.1 694.3 344.7C693.6 343.4 692.8 342.1 692.1 340.8C691.3 339.4 690.6 338.1 689.9 336.8C689.2 335.5 688.5 334.1 687.8 332.8C687.2 331.5 686.6 330.2 686.0 328.9C685.4 327.5 684.8 326.2 684.3 324.9C683.8 323.6 683.4 322.2 683.0 320.9C682.6 319.6 682.2 318.3 682.0 316.9C681.7 315.6 681.5 314.3 681.4 313.0C681.3 311.7 681.2 310.3 681.3 309.0C681.4 307.7 681.6 306.4 681.8 305.0C682.1 303.7 682.5 302.4 683.0 301.1C683.5 299.7 684.2 298.4 684.9 297.1C685.7 295.8 686.6 294.5 687.7 293.1C688.7 291.8 689.9 290.5 691.1 289.2C692.3 287.8 693.6 286.5 694.9 285.2C696.3 283.9 697.7 282.5 699.0 281.2C700.4 279.9 701.8 278.6 703.1 277.3C704.4 275.9 705.7 274.6 706.9 273.3C708.1 272.0 709.2 270.6 710.3 269.3C711.3 268.0 712.1 266.7 712.9 265.3C713.7 264.0 714.4 262.7 715.1 261.4C715.7 260.1 716.2 258.7 716.7 257.4C717.1 256.1 717.5 254.8 717.9 253.4C718.2 252.1 718.5 250.8 718.7 249.5C718.9 248.1 719.1 246.8 719.3 245.5C719.4 244.2 719.5 242.9 719.6 241.5C719.6 240.2 719.7 238.9 719.7 237.6C719.7 236.2 719.7 234.9 719.7 233.6C719.7 232.3 719.7 231.0 719.6 229.6C719.6 228.3 719.6 227.0 719.5 225.7C719.5 224.3 719.5 223.0 719.5 221.7C719.5 220.4 719.5 219.0 719.5 217.7C719.6 216.4 719.6 215.1 719.7 213.8C719.8 212.4 719.9 211.1 720.0 209.8C720.2 208.5 720.4 207.1 720.6 205.8C720.9 204.5 721.2 203.2 721.5 201.8C721.9 200.5 722.3 199.2 722.8 197.9C723.3 196.6 723.8 195.2 724.4 193.9C724.9 192.6 725.5 191.3 726.1 189.9C726.7 188.6 727.3 187.3 727.8 186.0C728.3 184.6 728.8 183.3 729.1 182.0C729.5 180.7 729.7 179.3 730.0 178.0C730.2 176.7 730.6 175.3 730.9 174.0C731.1 172.7 731.3 171.3 731.5 170.0C731.8 168.7 731.9 167.5 732.0 166.0C732.2 164.5 732.2 162.7 732.3 161.0C732.4 159.3 732.5 156.5 732.5 155.6Z"/>
<path class="w" d="M732.5 221.8V399.3"/>
<rect class="b" x="722.0" y="293.4" width="21.5" height="51.7"/>
<path class="m" d="M722.0 313.0H743.5"/>
<circle cx="732.5" cy="211.1" r="5.0" fill="#000"/>
<path class="v" fill="#7bcc7b" d="M835.3 165.0C835.3 167.9 835.3 177.8 835.5 182.4C835.8 187.0 836.4 189.5 837.1 192.4C837.7 195.3 838.9 198.1 839.6 200.0C840.2 201.9 840.5 202.7 841.0 204.0C841.5 205.3 842.0 206.7 842.4 208.0C842.9 209.3 843.4 210.7 843.9 212.0C844.3 213.3 844.8 214.7 845.3 216.0C845.7 217.3 846.2 218.7 846.6 220.0C847.0 221.3 847.4 222.7 847.8 224.0C848.2 225.3 848.6 226.7 849.0 228.0C849.3 229.3 849.7 230.7 850.0 232.0C850.3 233.3 850.6 234.7 850.8 236.0C851.0 237.3 851.3 238.7 851.4 240.0C851.6 241.3 851.8 242.7 851.9 244.0C852.0 245.3 852.0 246.7 852.0 248.0C852.0 249.3 852.0 250.7 851.9 252.0C851.9 253.3 851.7 254.7 851.6 256.0C851.4 257.3 851.3 258.7 851.1 260.0C850.9 261.3 850.7 262.7 850.5 264.0C850.3 265.3 850.1 266.7 849.9 268.0C849.7 269.3 849.5 270.7 849.4 272.0C849.2 273.3 849.1 274.7 849.0 276.0C848.9 277.3 848.8 278.7 848.8 280.0C848.8 281.3 848.9 282.7 849.0 284.0C849.1 285.3 849.3 286.7 849.5 288.0C849.8 289.3 850.1 290.7 850.5 292.0C850.9 293.3 851.5 294.7 852.0 296.0C852.6 297.3 853.2 298.7 853.9 300.0C854.6 301.3 855.3 302.7 856.1 304.0C856.8 305.3 857.6 306.7 858.4 308.0C859.1 309.3 859.9 310.7 860.6 312.0C861.3 313.3 862.0 314.7 862.7 316.0C863.3 317.3 864.0 318.7 864.5 320.0C865.1 321.3 865.7 322.7 866.2 324.0C866.8 325.3 867.3 326.7 867.7 328.0C868.2 329.3 868.6 330.7 869.0 332.0C869.4 333.3 869.8 334.7 870.1 336.0C870.4 337.3 870.7 338.7 871.0 340.0C871.3 341.3 871.5 342.7 871.7 344.0C871.9 345.3 872.1 346.7 872.2 348.0C872.3 349.3 872.4 350.7 872.5 352.0C872.6 353.3 872.6 354.7 872.6 356.0C872.6 357.3 872.6 358.7 872.5 360.0C872.5 361.3 872.4 362.7 872.3 364.0C872.1 365.3 872.0 366.7 871.8 368.0C871.6 369.3 871.3 370.7 871.1 372.0C870.8 373.3 870.5 374.7 870.2 376.0C869.9 377.3 869.5 378.7 869.1 380.0C868.7 381.3 868.3 382.7 867.8 384.0C867.4 385.3 866.9 386.7 866.4 388.0C865.9 389.3 865.4 390.7 864.8 392.0C864.3 393.3 863.8 394.7 863.2 396.0C862.6 397.3 862.1 398.7 861.5 400.0C860.9 401.3 860.3 402.7 859.7 404.0C859.1 405.3 858.5 406.7 857.9 408.0C857.3 409.3 856.7 410.7 856.1 412.0C855.6 413.3 855.0 414.7 854.4 416.0C853.8 417.3 853.3 418.7 852.7 420.0C852.2 421.3 851.6 422.7 851.1 424.0C850.6 425.3 850.1 426.7 849.6 428.0C849.2 429.3 848.7 430.7 848.3 432.0C847.9 433.3 847.5 434.7 847.1 436.0C846.7 437.3 846.3 438.7 846.0 440.0C845.7 441.3 845.4 442.7 845.1 444.0C844.8 445.3 844.5 446.7 844.2 448.0C844.0 449.3 843.8 450.7 843.5 452.0C843.3 453.3 843.1 454.7 843.0 456.0C842.8 457.3 842.6 458.7 842.5 460.0C842.4 461.3 842.2 462.7 842.1 464.0C842.0 465.3 842.0 466.7 841.9 468.0C841.8 469.3 841.8 470.7 841.7 472.0C841.7 473.3 841.6 474.7 841.6 476.0C841.6 477.3 841.5 478.7 841.5 480.0C841.4 481.3 841.4 482.7 841.4 484.0C841.3 485.3 841.3 486.7 841.2 488.0C841.2 489.3 841.1 490.7 841.0 492.0C840.9 493.3 840.8 494.7 840.7 496.0C840.6 497.3 840.7 497.3 840.3 500.0C839.8 502.7 838.6 508.2 837.9 512.3C837.3 516.4 836.7 521.0 836.3 524.8C835.8 528.6 835.5 528.5 835.3 535.0C835.1 541.5 835.3 558.8 835.3 563.5C835.3 558.8 835.5 541.5 835.3 535.0C835.1 528.5 834.8 528.6 834.3 524.8C833.9 521.0 833.3 516.4 832.6 512.3C832.0 508.2 830.8 502.7 830.3 500.0C829.9 497.3 830.0 497.3 829.9 496.0C829.8 494.7 829.7 493.3 829.6 492.0C829.5 490.7 829.4 489.3 829.4 488.0C829.3 486.7 829.3 485.3 829.2 484.0C829.2 482.7 829.2 481.3 829.1 480.0C829.1 478.7 829.0 477.3 829.0 476.0C829.0 474.7 828.9 473.3 828.9 472.0C828.8 470.7 828.8 469.3 828.7 468.0C828.6 466.7 828.6 465.3 828.5 464.0C828.4 462.7 828.2 461.3 828.1 460.0C828.0 458.7 827.8 457.3 827.6 456.0C827.5 454.7 827.3 453.3 827.1 452.0C826.8 450.7 826.6 449.3 826.4 448.0C826.1 446.7 825.8 445.3 825.5 444.0C825.2 442.7 824.9 441.3 824.6 440.0C824.3 438.7 823.9 437.3 823.5 436.0C823.1 434.7 822.7 433.3 822.3 432.0C821.9 430.7 821.4 429.3 821.0 428.0C820.5 426.7 820.0 425.3 819.5 424.0C819.0 422.7 818.4 421.3 817.9 420.0C817.3 418.7 816.8 417.3 816.2 416.0C815.6 414.7 815.0 413.3 814.5 412.0C813.9 410.7 813.3 409.3 812.7 408.0C812.1 406.7 811.5 405.3 810.9 404.0C810.3 402.7 809.7 401.3 809.1 400.0C808.5 398.7 808.0 397.3 807.4 396.0C806.8 394.7 806.3 393.3 805.8 392.0C805.2 390.7 804.7 389.3 804.2 388.0C803.7 386.7 803.2 385.3 802.8 384.0C802.3 382.7 801.9 381.3 801.5 380.0C801.1 378.7 800.7 377.3 800.4 376.0C800.1 374.7 799.8 373.3 799.5 372.0C799.3 370.7 799.0 369.3 798.8 368.0C798.6 366.7 798.5 365.3 798.3 364.0C798.2 362.7 798.1 361.3 798.1 360.0C798.0 358.7 798.0 357.3 798.0 356.0C798.0 354.7 798.0 353.3 798.1 352.0C798.2 350.7 798.3 349.3 798.4 348.0C798.5 346.7 798.7 345.3 798.9 344.0C799.1 342.7 799.3 341.3 799.6 340.0C799.9 338.7 800.2 337.3 800.5 336.0C800.8 334.7 801.2 333.3 801.6 332.0C802.0 330.7 802.4 329.3 802.9 328.0C803.3 326.7 803.8 325.3 804.4 324.0C804.9 322.7 805.5 321.3 806.1 320.0C806.6 318.7 807.3 317.3 807.9 316.0C808.6 314.7 809.3 313.3 810.0 312.0C810.7 310.7 811.5 309.3 812.2 308.0C813.0 306.7 813.8 305.3 814.5 304.0C815.3 302.7 816.0 301.3 816.7 300.0C817.4 298.7 818.0 297.3 818.6 296.0C819.1 294.7 819.7 293.3 820.1 292.0C820.5 290.7 820.8 289.3 821.1 288.0C821.3 286.7 821.5 285.3 821.6 284.0C821.7 282.7 821.8 281.3 821.8 280.0C821.8 278.7 821.7 277.3 821.6 276.0C821.5 274.7 821.4 273.3 821.2 272.0C821.1 270.7 820.9 269.3 820.7 268.0C820.5 266.7 820.3 265.3 820.1 264.0C819.9 262.7 819.7 261.3 819.5 260.0C819.3 258.7 819.2 257.3 819.0 256.0C818.9 254.7 818.7 253.3 818.7 252.0C818.6 250.7 818.6 249.3 818.6 248.0C818.6 246.7 818.6 245.3 818.7 244.0C818.8 242.7 819.0 241.3 819.2 240.0C819.3 238.7 819.6 237.3 819.8 236.0C820.0 234.7 820.3 233.3 820.6 232.0C820.9 230.7 821.3 229.3 821.6 228.0C822.0 226.7 822.4 225.3 822.8 224.0C823.2 222.7 823.6 221.3 824.0 220.0C824.4 218.7 824.9 217.3 825.3 216.0C825.8 214.7 826.3 213.3 826.7 212.0C827.2 210.7 827.7 209.3 828.2 208.0C828.6 206.7 829.1 205.3 829.6 204.0C830.1 202.7 830.4 201.9 831.0 200.0C831.7 198.1 832.9 195.3 833.5 192.4C834.2 189.5 834.8 187.0 835.0 182.4C835.3 177.8 835.3 167.9 835.3 165.0Z"/>
<path class="w" d="M835.3 231.8V467.5"/>
<rect class="b" x="824.8" y="322.5" width="21.2" height="65.0"/>
<path class="m" d="M824.8 356.9H846.0"/>
<circle cx="835.3" cy="496.6" r="5.0" fill="#000"/>
<path class="v" fill="#51b7cc" d="M938.0 139.0C938.0 142.5 938.0 154.3 938.0 160.0C938.0 165.7 938.1 169.2 938.1 173.0C938.2 176.8 938.4 179.4 938.5 182.6C938.7 185.8 938.9 188.8 939.1 192.0C939.4 195.2 939.5 198.5 939.8 201.7C940.0 204.9 940.2 208.0 940.5 211.2C940.7 214.4 940.8 218.5 941.0 220.7C941.2 222.9 941.4 223.4 941.7 224.7C941.9 226.0 942.2 227.3 942.6 228.7C942.9 230.0 943.2 231.3 943.6 232.6C944.0 234.0 944.4 235.3 944.8 236.6C945.3 237.9 945.7 239.3 946.2 240.6C946.7 241.9 947.2 243.3 947.7 244.6C948.2 245.9 948.8 247.2 949.3 248.6C949.9 249.9 950.4 251.2 951.0 252.5C951.6 253.9 952.2 255.2 952.8 256.5C953.4 257.9 954.0 259.2 954.6 260.5C955.2 261.8 955.8 263.2 956.4 264.5C957.0 265.8 957.6 267.1 958.2 268.5C958.8 269.8 959.4 271.1 960.0 272.4C960.6 273.8 961.1 275.1 961.7 276.4C962.3 277.8 962.8 279.1 963.4 280.4C963.9 281.7 964.5 283.1 965.0 284.4C965.5 285.7 966.0 287.0 966.5 288.4C966.9 289.7 967.4 291.0 967.8 292.4C968.2 293.7 968.7 295.0 969.0 296.3C969.4 297.7 969.8 299.0 970.2 300.3C970.5 301.6 970.9 303.0 971.2 304.3C971.5 305.6 971.8 306.9 972.1 308.3C972.3 309.6 972.6 310.9 972.8 312.3C973.1 313.6 973.3 314.9 973.5 316.2C973.7 317.6 973.9 318.9 974.1 320.2C974.3 321.5 974.4 322.9 974.5 324.2C974.7 325.5 974.8 326.8 974.9 328.2C975.0 329.5 975.1 330.8 975.2 332.2C975.3 333.5 975.3 334.8 975.4 336.1C975.4 337.5 975.4 338.8 975.4 340.1C975.5 341.4 975.5 342.8 975.4 344.1C975.4 345.4 975.4 346.8 975.3 348.1C975.3 349.4 975.2 350.7 975.2 352.1C975.1 353.4 975.0 354.7 974.9 356.0C974.8 357.4 974.7 358.7 974.5 360.0C974.4 361.3 974.2 362.7 974.0 364.0C973.9 365.3 973.6 366.7 973.4 368.0C973.2 369.3 972.9 370.6 972.6 372.0C972.3 373.3 972.0 374.6 971.6 375.9C971.3 377.3 970.9 378.6 970.5 379.9C970.1 381.3 969.6 382.6 969.1 383.9C968.6 385.2 968.1 386.6 967.6 387.9C967.0 389.2 966.4 390.5 965.8 391.9C965.2 393.2 964.6 394.5 964.0 395.8C963.3 397.2 962.7 398.5 962.0 399.8C961.3 401.2 960.7 402.5 960.0 403.8C959.4 405.1 958.7 406.5 958.0 407.8C957.4 409.1 956.7 410.4 956.1 411.8C955.4 413.1 954.8 414.4 954.2 415.7C953.6 417.1 953.0 418.4 952.5 419.7C951.9 421.1 951.4 422.4 950.8 423.7C950.3 425.0 949.8 426.4 949.3 427.7C948.9 429.0 948.4 430.3 948.0 431.7C947.5 433.0 947.1 434.3 946.7 435.7C946.4 437.0 946.0 438.3 945.7 439.6C945.4 441.0 945.1 442.3 944.8 443.6C944.5 444.9 944.3 446.3 944.0 447.6C943.8 448.9 943.6 450.2 943.5 451.6C943.3 452.9 943.2 454.2 943.0 455.6C942.9 456.9 942.8 458.2 942.7 459.5C942.6 460.9 942.6 462.2 942.5 463.5C942.5 464.8 942.4 466.2 942.4 467.5C942.3 468.8 942.3 470.2 942.3 471.5C942.3 472.8 942.2 474.1 942.2 475.5C942.2 476.8 942.2 478.1 942.1 479.4C942.1 480.8 942.1 482.1 942.0 483.4C942.0 484.7 942.1 484.6 941.9 487.4C941.7 490.2 941.1 495.9 940.8 500.0C940.4 504.1 940.2 508.2 939.9 512.3C939.5 516.4 939.0 520.2 938.6 524.8C938.3 529.4 938.2 533.1 938.0 540.0C937.9 546.9 938.0 561.7 938.0 566.0C938.0 561.7 938.1 546.9 938.0 540.0C937.8 533.1 937.7 529.4 937.4 524.8C937.0 520.2 936.5 516.4 936.1 512.3C935.8 508.2 935.6 504.1 935.2 500.0C934.9 495.9 934.3 490.2 934.1 487.4C933.9 484.6 934.0 484.7 934.0 483.4C933.9 482.1 933.9 480.8 933.9 479.4C933.8 478.1 933.8 476.8 933.8 475.5C933.8 474.1 933.7 472.8 933.7 471.5C933.7 470.2 933.7 468.8 933.6 467.5C933.6 466.2 933.5 464.8 933.5 463.5C933.4 462.2 933.4 460.9 933.3 459.5C933.2 458.2 933.1 456.9 933.0 455.6C932.8 454.2 932.7 452.9 932.5 451.6C932.4 450.2 932.2 448.9 932.0 447.6C931.7 446.3 931.5 444.9 931.2 443.6C930.9 442.3 930.6 441.0 930.3 439.6C930.0 438.3 929.6 437.0 929.3 435.7C928.9 434.3 928.5 433.0 928.0 431.7C927.6 430.3 927.1 429.0 926.7 427.7C926.2 426.4 925.7 425.0 925.2 423.7C924.6 422.4 924.1 421.1 923.5 419.7C923.0 418.4 922.4 417.1 921.8 415.7C921.2 414.4 920.6 413.1 919.9 411.8C919.3 410.4 918.6 409.1 918.0 407.8C917.3 406.5 916.6 405.1 916.0 403.8C915.3 402.5 914.7 401.2 914.0 399.8C913.3 398.5 912.7 397.2 912.0 395.8C911.4 394.5 910.8 393.2 910.2 391.9C909.6 390.5 909.0 389.2 908.4 387.9C907.9 386.6 907.4 385.2 906.9 383.9C906.4 382.6 905.9 381.3 905.5 379.9C905.1 378.6 904.7 377.3 904.4 375.9C904.0 374.6 903.7 373.3 903.4 372.0C903.1 370.6 902.8 369.3 902.6 368.0C902.4 366.7 902.1 365.3 902.0 364.0C901.8 362.7 901.6 361.3 901.5 360.0C901.3 358.7 901.2 357.4 901.1 356.0C901.0 354.7 900.9 353.4 900.8 352.1C900.8 350.7 900.7 349.4 900.7 348.1C900.6 346.8 900.6 345.4 900.6 344.1C900.5 342.8 900.5 341.4 900.6 340.1C900.6 338.8 900.6 337.5 900.6 336.1C900.7 334.8 900.7 333.5 900.8 332.2C900.9 330.8 901.0 329.5 901.1 328.2C901.2 326.8 901.3 325.5 901.5 324.2C901.6 322.9 901.7 321.5 901.9 320.2C902.1 318.9 902.3 317.6 902.5 316.2C902.7 314.9 902.9 313.6 903.2 312.3C903.4 310.9 903.7 309.6 903.9 308.3C904.2 306.9 904.5 305.6 904.8 304.3C905.1 303.0 905.5 301.6 905.8 300.3C906.2 299.0 906.6 297.7 907.0 296.3C907.3 295.0 907.8 293.7 908.2 292.4C908.6 291.0 909.1 289.7 909.5 288.4C910.0 287.0 910.5 285.7 911.0 284.4C911.5 283.1 912.1 281.7 912.6 280.4C913.2 279.1 913.7 277.8 914.3 276.4C914.9 275.1 915.4 273.8 916.0 272.4C916.6 271.1 917.2 269.8 917.8 268.5C918.4 267.1 919.0 265.8 919.6 264.5C920.2 263.2 920.8 261.8 921.4 260.5C922.0 259.2 922.6 257.9 923.2 256.5C923.8 255.2 924.4 253.9 925.0 252.5C925.6 251.2 926.1 249.9 926.7 248.6C927.2 247.2 927.8 245.9 928.3 244.6C928.8 243.3 929.3 241.9 929.8 240.6C930.3 239.3 930.7 237.9 931.2 236.6C931.6 235.3 932.0 234.0 932.4 232.6C932.8 231.3 933.1 230.0 933.4 228.7C933.8 227.3 934.1 226.0 934.3 224.7C934.6 223.4 934.8 222.9 935.0 220.7C935.2 218.5 935.3 214.4 935.5 211.2C935.8 208.0 936.0 204.9 936.2 201.7C936.5 198.5 936.6 195.2 936.9 192.0C937.1 188.8 937.3 185.8 937.5 182.6C937.6 179.4 937.8 176.8 937.9 173.0C937.9 169.2 938.0 165.7 938.0 160.0C938.0 154.3 938.0 142.5 938.0 139.0Z"/>
<path class="w" d="M938.0 216.1V488.7"/>
<rect class="b" x="927.6" y="298.4" width="21.4" height="75.9"/>
<path class="m" d="M927.6 340.6H949.0"/>
<rect x="569.0" y="39.6" width="430.1" height="550.6" fill="none" stroke="#1a1a1a" stroke-width="1.6"/>
<path d="M569.0 64.2h-6.2M569.0 232.2h-6.2M569.0 400.3h-6.2M569.0 568.2h-6.2M629.8 590.2v6.5M732.5 590.2v6.5M835.3 590.2v6.5M938.0 590.2v6.5" stroke="#111" stroke-width="2" fill="none"/>
<text class="t" transform="translate(565.45 23.80) scale(0.8976 1)" font-size="26.9">Flexors</text>
<text class="t" transform="translate(951.06 23.80) scale(0.8716 1)" font-size="26.9">Sex</text>
<text class="L" transform="translate(578.82 87.00) scale(0.8615 1)" font-size="41.3">B</text>
<text class="k" transform="translate(536.82 71.01) scale(0.9300 1)" font-size="23.6">16</text>
<text class="k" transform="translate(537.05 239.11) scale(0.9300 1)" font-size="23.6">12</text>
<text class="k" transform="translate(546.54 406.81) scale(0.9300 1)" font-size="23.6">8</text>
<text class="k" transform="translate(546.27 574.81) scale(0.9300 1)" font-size="23.6">4</text>
<text class="s" transform="translate(803.41 154.50) scale(0.9926 1)" font-size="22.5">***,##</text>
<text class="s" transform="translate(910.40 130.30) scale(1.0018 1)" font-size="22.5">***, #</text>
<text class="x" transform="translate(556.35 621.90) scale(1.0518 1)" font-size="17.6" fill="#12307f" stroke="#12307f">Male T2DM</text>
<text class="x" transform="translate(662.79 621.90) scale(1.0085 1)" font-size="17.6" fill="#f20a0a" stroke="#f20a0a">Female T2DM</text>
<text class="x" transform="translate(789.79 621.90) scale(1.0086 1)" font-size="17.6" fill="#316f15" stroke="#316f15">Male Control</text>
<text class="x" transform="translate(907.21 621.90) scale(0.9881 1)" font-size="17.6" fill="#18c8ee" stroke="#18c8ee">Female Control</text>
</g>
<g>
<path class="v" fill="#4c7eaf" d="M1138.9 131.0C1138.9 135.4 1138.7 150.9 1139.2 157.4C1139.6 163.9 1141.0 167.2 1141.7 169.9C1142.3 172.6 1142.5 172.6 1143.0 173.9C1143.5 175.2 1144.0 176.5 1144.6 177.9C1145.1 179.2 1145.7 180.5 1146.2 181.9C1146.8 183.2 1147.4 184.5 1148.0 185.8C1148.6 187.2 1149.2 188.5 1149.8 189.8C1150.4 191.2 1151.0 192.5 1151.6 193.8C1152.2 195.2 1152.8 196.5 1153.3 197.8C1153.9 199.1 1154.4 200.5 1154.9 201.8C1155.5 203.1 1156.0 204.5 1156.4 205.8C1156.9 207.1 1157.3 208.4 1157.7 209.8C1158.1 211.1 1158.4 212.4 1158.7 213.8C1159.1 215.1 1159.4 216.4 1159.6 217.7C1159.9 219.1 1160.1 220.4 1160.4 221.7C1160.6 223.1 1160.8 224.4 1161.0 225.7C1161.1 227.0 1161.3 228.4 1161.5 229.7C1161.6 231.0 1161.8 232.4 1161.9 233.7C1162.0 235.0 1162.2 236.3 1162.3 237.7C1162.4 239.0 1162.5 240.3 1162.7 241.7C1162.8 243.0 1162.9 244.3 1163.1 245.7C1163.2 247.0 1163.3 248.3 1163.5 249.6C1163.6 251.0 1163.8 252.3 1163.9 253.6C1164.1 255.0 1164.3 256.3 1164.5 257.6C1164.7 258.9 1164.9 260.3 1165.2 261.6C1165.4 262.9 1165.7 264.3 1166.0 265.6C1166.2 266.9 1166.6 268.2 1166.9 269.6C1167.2 270.9 1167.6 272.2 1167.9 273.6C1168.3 274.9 1168.6 276.2 1169.0 277.5C1169.4 278.9 1169.7 280.2 1170.1 281.5C1170.5 282.9 1170.8 284.2 1171.2 285.5C1171.6 286.9 1171.9 288.2 1172.2 289.5C1172.5 290.8 1172.9 292.2 1173.2 293.5C1173.4 294.8 1173.7 296.2 1174.0 297.5C1174.2 298.8 1174.5 300.1 1174.7 301.5C1174.9 302.8 1175.1 304.1 1175.3 305.5C1175.4 306.8 1175.6 308.1 1175.7 309.4C1175.8 310.8 1175.9 312.1 1176.0 313.4C1176.0 314.8 1176.1 316.1 1176.1 317.4C1176.1 318.7 1176.0 320.1 1176.0 321.4C1175.9 322.7 1175.8 324.1 1175.7 325.4C1175.5 326.7 1175.4 328.0 1175.2 329.4C1175.0 330.7 1174.8 332.0 1174.5 333.4C1174.3 334.7 1174.0 336.0 1173.7 337.4C1173.4 338.7 1173.0 340.0 1172.7 341.3C1172.3 342.7 1171.9 344.0 1171.5 345.3C1171.1 346.7 1170.6 348.0 1170.2 349.3C1169.7 350.6 1169.2 352.0 1168.7 353.3C1168.2 354.6 1167.6 356.0 1167.0 357.3C1166.5 358.6 1165.9 359.9 1165.3 361.3C1164.6 362.6 1164.0 363.9 1163.4 365.3C1162.7 366.6 1162.0 367.9 1161.4 369.2C1160.7 370.6 1160.0 371.9 1159.3 373.2C1158.7 374.6 1158.0 375.9 1157.3 377.2C1156.6 378.6 1156.0 379.9 1155.3 381.2C1154.7 382.5 1154.0 383.9 1153.4 385.2C1152.8 386.5 1152.2 387.9 1151.6 389.2C1151.0 390.5 1150.5 391.8 1150.0 393.2C1149.4 394.5 1149.0 395.8 1148.5 397.2C1148.1 398.5 1147.7 399.8 1147.3 401.1C1146.9 402.5 1146.6 403.8 1146.3 405.1C1146.0 406.5 1145.7 407.8 1145.4 409.1C1145.1 410.4 1144.9 411.8 1144.7 413.1C1144.5 414.4 1144.3 415.8 1144.1 417.1C1143.9 418.4 1143.8 419.7 1143.6 421.1C1143.5 422.4 1143.4 423.7 1143.3 425.1C1143.1 426.4 1143.0 427.7 1142.9 429.1C1142.8 430.4 1142.8 431.7 1142.7 433.0C1142.6 434.4 1142.5 435.7 1142.4 437.0C1142.4 438.4 1142.3 439.7 1142.2 441.0C1142.1 442.3 1142.1 442.9 1142.0 445.0C1141.8 447.1 1141.5 450.8 1141.3 453.5C1141.1 456.2 1140.9 458.4 1140.7 461.0C1140.4 463.6 1140.1 466.7 1139.9 469.4C1139.6 472.1 1139.4 474.4 1139.2 477.0C1139.1 479.6 1139.0 482.2 1138.9 485.2C1138.8 488.2 1138.9 488.9 1138.9 495.0C1138.9 501.1 1138.9 517.2 1138.9 521.7C1138.9 517.2 1138.9 501.1 1138.9 495.0C1138.9 488.9 1139.0 488.2 1138.9 485.2C1138.8 482.2 1138.7 479.6 1138.6 477.0C1138.4 474.4 1138.2 472.1 1137.9 469.4C1137.7 466.7 1137.4 463.6 1137.1 461.0C1136.9 458.4 1136.7 456.2 1136.5 453.5C1136.3 450.8 1136.0 447.1 1135.8 445.0C1135.7 442.9 1135.7 442.3 1135.6 441.0C1135.5 439.7 1135.4 438.4 1135.4 437.0C1135.3 435.7 1135.2 434.4 1135.1 433.0C1135.0 431.7 1135.0 430.4 1134.9 429.1C1134.8 427.7 1134.7 426.4 1134.5 425.1C1134.4 423.7 1134.3 422.4 1134.2 421.1C1134.0 419.7 1133.9 418.4 1133.7 417.1C1133.5 415.8 1133.3 414.4 1133.1 413.1C1132.9 411.8 1132.7 410.4 1132.4 409.1C1132.1 407.8 1131.8 406.5 1131.5 405.1C1131.2 403.8 1130.9 402.5 1130.5 401.1C1130.1 399.8 1129.7 398.5 1129.3 397.2C1128.8 395.8 1128.4 394.5 1127.8 393.2C1127.3 391.8 1126.8 390.5 1126.2 389.2C1125.6 387.9 1125.0 386.5 1124.4 385.2C1123.8 383.9 1123.1 382.5 1122.5 381.2C1121.8 379.9 1121.2 378.6 1120.5 377.2C1119.8 375.9 1119.1 374.6 1118.5 373.2C1117.8 371.9 1117.1 370.6 1116.4 369.2C1115.8 367.9 1115.1 366.6 1114.4 365.3C1113.8 363.9 1113.2 362.6 1112.5 361.3C1111.9 359.9 1111.3 358.6 1110.8 357.3C1110.2 356.0 1109.6 354.6 1109.1 353.3C1108.6 352.0 1108.1 350.6 1107.6 349.3C1107.2 348.0 1106.7 346.7 1106.3 345.3C1105.9 344.0 1105.5 342.7 1105.1 341.3C1104.8 340.0 1104.4 338.7 1104.1 337.4C1103.8 336.0 1103.5 334.7 1103.3 333.4C1103.0 332.0 1102.8 330.7 1102.6 329.4C1102.4 328.0 1102.3 326.7 1102.1 325.4C1102.0 324.1 1101.9 322.7 1101.8 321.4C1101.8 320.1 1101.7 318.7 1101.7 317.4C1101.7 316.1 1101.8 314.8 1101.8 313.4C1101.9 312.1 1102.0 310.8 1102.1 309.4C1102.2 308.1 1102.4 306.8 1102.5 305.5C1102.7 304.1 1102.9 302.8 1103.1 301.5C1103.3 300.1 1103.6 298.8 1103.8 297.5C1104.1 296.2 1104.4 294.8 1104.6 293.5C1104.9 292.2 1105.3 290.8 1105.6 289.5C1105.9 288.2 1106.2 286.9 1106.6 285.5C1107.0 284.2 1107.3 282.9 1107.7 281.5C1108.1 280.2 1108.4 278.9 1108.8 277.5C1109.2 276.2 1109.5 274.9 1109.9 273.6C1110.2 272.2 1110.6 270.9 1110.9 269.6C1111.2 268.2 1111.6 266.9 1111.8 265.6C1112.1 264.3 1112.4 262.9 1112.6 261.6C1112.9 260.3 1113.1 258.9 1113.3 257.6C1113.5 256.3 1113.7 255.0 1113.9 253.6C1114.0 252.3 1114.2 251.0 1114.3 249.6C1114.5 248.3 1114.6 247.0 1114.7 245.7C1114.9 244.3 1115.0 243.0 1115.1 241.7C1115.3 240.3 1115.4 239.0 1115.5 237.7C1115.6 236.3 1115.8 235.0 1115.9 233.7C1116.0 232.4 1116.2 231.0 1116.3 229.7C1116.5 228.4 1116.7 227.0 1116.8 225.7C1117.0 224.4 1117.2 223.1 1117.4 221.7C1117.7 220.4 1117.9 219.1 1118.2 217.7C1118.4 216.4 1118.7 215.1 1119.1 213.8C1119.4 212.4 1119.7 211.1 1120.1 209.8C1120.5 208.4 1120.9 207.1 1121.4 205.8C1121.8 204.5 1122.3 203.1 1122.9 201.8C1123.4 200.5 1123.9 199.1 1124.5 197.8C1125.0 196.5 1125.6 195.2 1126.2 193.8C1126.8 192.5 1127.4 191.2 1128.0 189.8C1128.6 188.5 1129.2 187.2 1129.8 185.8C1130.4 184.5 1131.0 183.2 1131.6 181.9C1132.1 180.5 1132.7 179.2 1133.2 177.9C1133.8 176.5 1134.3 175.2 1134.8 173.9C1135.3 172.6 1135.5 172.6 1136.1 169.9C1136.8 167.2 1138.2 163.9 1138.7 157.4C1139.1 150.9 1138.9 135.4 1138.9 131.0Z"/>
<path class="w" d="M1138.9 205.3V447.4"/>
<rect class="b" x="1128.6" y="269.6" width="20.7" height="71.7"/>
<path class="m" d="M1128.6 303.7H1149.3"/>
<path class="v" fill="#f24d4c" d="M1242.0 171.9C1242.0 175.7 1242.0 188.9 1242.2 194.8C1242.5 200.7 1243.0 203.1 1243.8 207.3C1244.6 211.5 1246.3 217.0 1247.0 219.8C1247.7 222.6 1247.8 222.5 1248.2 223.8C1248.6 225.2 1249.0 226.5 1249.4 227.9C1249.9 229.2 1250.3 230.5 1250.7 231.9C1251.2 233.2 1251.6 234.6 1252.1 235.9C1252.5 237.3 1253.0 238.6 1253.4 239.9C1253.9 241.3 1254.3 242.6 1254.8 244.0C1255.3 245.3 1255.7 246.6 1256.2 248.0C1256.7 249.3 1257.2 250.7 1257.6 252.0C1258.1 253.4 1258.6 254.7 1259.2 256.0C1259.7 257.4 1260.2 258.7 1260.8 260.1C1261.3 261.4 1261.9 262.8 1262.5 264.1C1263.2 265.4 1263.8 266.8 1264.5 268.1C1265.2 269.5 1265.9 270.8 1266.6 272.2C1267.4 273.5 1268.2 274.8 1268.9 276.2C1269.7 277.5 1270.5 278.9 1271.2 280.2C1272.0 281.5 1272.7 282.9 1273.3 284.2C1274.0 285.6 1274.6 286.9 1275.2 288.3C1275.7 289.6 1276.3 290.9 1276.8 292.3C1277.2 293.6 1277.7 295.0 1278.1 296.3C1278.5 297.7 1278.8 299.0 1279.2 300.3C1279.5 301.7 1279.8 303.0 1280.0 304.4C1280.3 305.7 1280.5 307.1 1280.7 308.4C1280.8 309.7 1281.0 311.1 1281.1 312.4C1281.2 313.8 1281.3 315.1 1281.3 316.5C1281.4 317.8 1281.4 319.1 1281.3 320.5C1281.3 321.8 1281.3 323.2 1281.2 324.5C1281.1 325.8 1281.0 327.2 1280.9 328.5C1280.7 329.9 1280.6 331.2 1280.4 332.6C1280.2 333.9 1280.0 335.2 1279.7 336.6C1279.5 337.9 1279.2 339.3 1278.9 340.6C1278.7 342.0 1278.3 343.3 1278.0 344.6C1277.7 346.0 1277.3 347.3 1277.0 348.7C1276.6 350.0 1276.2 351.4 1275.8 352.7C1275.4 354.0 1275.0 355.4 1274.6 356.7C1274.1 358.1 1273.7 359.4 1273.2 360.7C1272.8 362.1 1272.3 363.4 1271.9 364.8C1271.4 366.1 1271.0 367.5 1270.5 368.8C1270.0 370.1 1269.6 371.5 1269.1 372.8C1268.6 374.2 1268.1 375.5 1267.7 376.9C1267.2 378.2 1266.8 379.5 1266.3 380.9C1265.9 382.2 1265.4 383.6 1265.0 384.9C1264.6 386.3 1264.1 387.6 1263.7 388.9C1263.3 390.3 1262.9 391.6 1262.5 393.0C1262.2 394.3 1261.8 395.7 1261.5 397.0C1261.1 398.3 1260.8 399.7 1260.5 401.0C1260.2 402.4 1259.9 403.7 1259.7 405.0C1259.4 406.4 1259.2 407.7 1259.0 409.1C1258.8 410.4 1258.7 411.8 1258.5 413.1C1258.3 414.4 1258.2 415.8 1258.0 417.1C1257.8 418.5 1257.6 419.8 1257.4 421.2C1257.2 422.5 1257.0 423.8 1256.7 425.2C1256.4 426.5 1256.1 427.9 1255.7 429.2C1255.4 430.6 1254.9 431.9 1254.4 433.2C1253.9 434.6 1253.4 435.9 1252.8 437.3C1252.2 438.6 1251.6 439.9 1251.0 441.3C1250.5 442.6 1249.9 444.0 1249.4 445.3C1248.8 446.7 1248.4 448.0 1248.0 449.3C1247.5 450.7 1247.2 452.0 1246.8 453.4C1246.5 454.7 1246.5 454.6 1245.8 457.4C1245.2 460.2 1243.6 466.7 1243.0 470.0C1242.3 473.3 1242.2 471.7 1242.0 477.0C1241.8 482.3 1242.0 497.7 1242.0 501.8C1242.0 497.7 1242.2 482.3 1242.0 477.0C1241.8 471.7 1241.7 473.3 1241.0 470.0C1240.4 466.7 1238.8 460.2 1238.2 457.4C1237.5 454.6 1237.5 454.7 1237.2 453.4C1236.8 452.0 1236.5 450.7 1236.0 449.3C1235.6 448.0 1235.2 446.7 1234.6 445.3C1234.1 444.0 1233.5 442.6 1233.0 441.3C1232.4 439.9 1231.8 438.6 1231.2 437.3C1230.6 435.9 1230.1 434.6 1229.6 433.2C1229.1 431.9 1228.6 430.6 1228.3 429.2C1227.9 427.9 1227.6 426.5 1227.3 425.2C1227.0 423.8 1226.8 422.5 1226.6 421.2C1226.4 419.8 1226.2 418.5 1226.0 417.1C1225.8 415.8 1225.7 414.4 1225.5 413.1C1225.3 411.8 1225.2 410.4 1225.0 409.1C1224.8 407.7 1224.6 406.4 1224.3 405.0C1224.1 403.7 1223.8 402.4 1223.5 401.0C1223.2 399.7 1222.9 398.3 1222.5 397.0C1222.2 395.7 1221.8 394.3 1221.5 393.0C1221.1 391.6 1220.7 390.3 1220.3 388.9C1219.9 387.6 1219.4 386.3 1219.0 384.9C1218.6 383.6 1218.1 382.2 1217.7 380.9C1217.2 379.5 1216.8 378.2 1216.3 376.9C1215.9 375.5 1215.4 374.2 1214.9 372.8C1214.4 371.5 1214.0 370.1 1213.5 368.8C1213.0 367.5 1212.6 366.1 1212.1 364.8C1211.7 363.4 1211.2 362.1 1210.8 360.7C1210.3 359.4 1209.9 358.1 1209.4 356.7C1209.0 355.4 1208.6 354.0 1208.2 352.7C1207.8 351.4 1207.4 350.0 1207.0 348.7C1206.7 347.3 1206.3 346.0 1206.0 344.6C1205.7 343.3 1205.3 342.0 1205.1 340.6C1204.8 339.3 1204.5 337.9 1204.3 336.6C1204.0 335.2 1203.8 333.9 1203.6 332.6C1203.4 331.2 1203.3 329.9 1203.1 328.5C1203.0 327.2 1202.9 325.8 1202.8 324.5C1202.7 323.2 1202.7 321.8 1202.7 320.5C1202.6 319.1 1202.6 317.8 1202.7 316.5C1202.7 315.1 1202.8 313.8 1202.9 312.4C1203.0 311.1 1203.2 309.7 1203.3 308.4C1203.5 307.1 1203.7 305.7 1204.0 304.4C1204.2 303.0 1204.5 301.7 1204.8 300.3C1205.2 299.0 1205.5 297.7 1205.9 296.3C1206.3 295.0 1206.8 293.6 1207.2 292.3C1207.7 290.9 1208.3 289.6 1208.8 288.3C1209.4 286.9 1210.0 285.6 1210.7 284.2C1211.3 282.9 1212.0 281.5 1212.8 280.2C1213.5 278.9 1214.3 277.5 1215.1 276.2C1215.8 274.8 1216.6 273.5 1217.4 272.2C1218.1 270.8 1218.8 269.5 1219.5 268.1C1220.2 266.8 1220.8 265.4 1221.5 264.1C1222.1 262.8 1222.7 261.4 1223.2 260.1C1223.8 258.7 1224.3 257.4 1224.8 256.0C1225.4 254.7 1225.9 253.4 1226.4 252.0C1226.8 250.7 1227.3 249.3 1227.8 248.0C1228.3 246.6 1228.7 245.3 1229.2 244.0C1229.7 242.6 1230.1 241.3 1230.6 239.9C1231.0 238.6 1231.5 237.3 1231.9 235.9C1232.4 234.6 1232.8 233.2 1233.3 231.9C1233.7 230.5 1234.1 229.2 1234.6 227.9C1235.0 226.5 1235.4 225.2 1235.8 223.8C1236.2 222.5 1236.3 222.6 1237.0 219.8C1237.7 217.0 1239.4 211.5 1240.2 207.3C1241.0 203.1 1241.5 200.7 1241.8 194.8C1242.0 188.9 1242.0 175.7 1242.0 171.9Z"/>
<path class="w" d="M1242.0 238.5V435.0"/>
<rect class="b" x="1231.8" y="300.5" width="20.5" height="67.5"/>
<path class="m" d="M1231.8 337.3H1252.3"/>
<path class="v" fill="#7bcc7b" d="M1344.8 134.2C1344.9 138.1 1344.9 151.4 1345.5 157.4C1346.0 163.4 1347.4 165.3 1348.0 169.9C1348.7 174.5 1349.2 180.7 1349.3 184.8C1349.5 189.0 1349.3 191.1 1348.8 194.8C1348.2 198.6 1346.7 203.1 1346.1 207.3C1345.4 211.5 1345.1 216.5 1344.8 219.8C1344.6 223.1 1344.5 224.3 1344.8 227.2C1345.2 230.1 1346.0 234.3 1346.7 237.2C1347.5 240.1 1348.7 242.8 1349.4 244.7C1350.1 246.6 1350.4 247.4 1350.9 248.7C1351.4 250.1 1351.9 251.4 1352.4 252.7C1352.8 254.1 1353.3 255.4 1353.7 256.8C1354.2 258.1 1354.6 259.5 1355.0 260.8C1355.4 262.1 1355.8 263.5 1356.2 264.8C1356.5 266.2 1356.8 267.5 1357.1 268.8C1357.4 270.2 1357.7 271.5 1357.9 272.9C1358.1 274.2 1358.3 275.5 1358.5 276.9C1358.7 278.2 1358.8 279.6 1359.0 280.9C1359.2 282.2 1359.3 283.6 1359.5 284.9C1359.7 286.3 1359.9 287.6 1360.1 289.0C1360.3 290.3 1360.5 291.6 1360.8 293.0C1361.1 294.3 1361.4 295.7 1361.7 297.0C1362.1 298.3 1362.5 299.7 1362.9 301.0C1363.4 302.4 1363.9 303.7 1364.5 305.0C1365.2 306.4 1365.8 307.7 1366.6 309.1C1367.4 310.4 1368.2 311.8 1369.1 313.1C1370.1 314.4 1371.1 315.8 1372.1 317.1C1373.2 318.5 1374.4 319.8 1375.6 321.1C1376.8 322.5 1378.1 323.8 1379.4 325.2C1380.6 326.5 1382.0 327.8 1383.2 329.2C1384.5 330.5 1385.7 331.9 1386.9 333.2C1388.0 334.6 1389.1 335.9 1390.1 337.2C1391.1 338.6 1392.0 339.9 1392.8 341.3C1393.5 342.6 1394.1 343.9 1394.6 345.3C1395.1 346.6 1395.4 348.0 1395.6 349.3C1395.8 350.6 1395.8 352.0 1395.7 353.3C1395.6 354.7 1395.4 356.0 1395.1 357.4C1394.9 358.7 1394.5 360.0 1394.0 361.4C1393.5 362.7 1392.9 364.1 1392.3 365.4C1391.7 366.7 1391.0 368.1 1390.2 369.4C1389.5 370.8 1388.6 372.1 1387.8 373.4C1386.9 374.8 1386.0 376.1 1385.0 377.5C1384.1 378.8 1383.1 380.1 1382.1 381.5C1381.1 382.8 1380.1 384.2 1379.1 385.5C1378.1 386.9 1377.0 388.2 1376.0 389.5C1375.0 390.9 1373.9 392.2 1372.9 393.6C1371.9 394.9 1371.0 396.2 1370.0 397.6C1369.1 398.9 1368.1 400.3 1367.3 401.6C1366.4 402.9 1365.6 404.3 1364.8 405.6C1364.0 407.0 1363.3 408.3 1362.7 409.7C1362.0 411.0 1361.5 412.3 1361.0 413.7C1360.5 415.0 1360.1 416.4 1359.8 417.7C1359.5 419.0 1359.3 420.4 1359.1 421.7C1359.0 423.1 1359.0 424.4 1359.0 425.7C1359.1 427.1 1359.2 428.4 1359.3 429.8C1359.4 431.1 1359.6 432.5 1359.7 433.8C1359.9 435.1 1360.0 436.5 1360.1 437.8C1360.2 439.2 1360.3 440.5 1360.3 441.8C1360.3 443.2 1360.2 444.5 1360.1 445.9C1359.9 447.2 1359.7 448.5 1359.3 449.9C1359.0 451.2 1358.6 452.6 1358.2 453.9C1357.7 455.2 1357.2 456.6 1356.6 457.9C1356.1 459.3 1355.5 460.6 1354.9 462.0C1354.3 463.3 1353.6 464.6 1353.0 466.0C1352.4 467.3 1352.1 467.3 1351.2 470.0C1350.2 472.7 1348.4 479.0 1347.3 482.3C1346.3 485.6 1345.2 485.8 1344.8 490.0C1344.4 494.2 1344.8 504.8 1344.8 507.8C1344.8 504.8 1345.2 494.2 1344.8 490.0C1344.4 485.8 1343.3 485.6 1342.2 482.3C1341.2 479.0 1339.4 472.7 1338.4 470.0C1337.5 467.3 1337.2 467.3 1336.6 466.0C1336.0 464.6 1335.3 463.3 1334.7 462.0C1334.1 460.6 1333.5 459.3 1333.0 457.9C1332.4 456.6 1331.9 455.2 1331.4 453.9C1331.0 452.6 1330.6 451.2 1330.3 449.9C1329.9 448.5 1329.7 447.2 1329.5 445.9C1329.4 444.5 1329.3 443.2 1329.3 441.8C1329.3 440.5 1329.4 439.2 1329.5 437.8C1329.6 436.5 1329.7 435.1 1329.9 433.8C1330.0 432.5 1330.2 431.1 1330.3 429.8C1330.4 428.4 1330.5 427.1 1330.6 425.7C1330.6 424.4 1330.6 423.1 1330.5 421.7C1330.3 420.4 1330.1 419.0 1329.8 417.7C1329.5 416.4 1329.1 415.0 1328.6 413.7C1328.1 412.3 1327.6 411.0 1326.9 409.7C1326.3 408.3 1325.6 407.0 1324.8 405.6C1324.0 404.3 1323.2 402.9 1322.3 401.6C1321.5 400.3 1320.5 398.9 1319.6 397.6C1318.6 396.2 1317.7 394.9 1316.7 393.6C1315.7 392.2 1314.6 390.9 1313.6 389.5C1312.6 388.2 1311.5 386.9 1310.5 385.5C1309.5 384.2 1308.5 382.8 1307.5 381.5C1306.5 380.1 1305.5 378.8 1304.6 377.5C1303.6 376.1 1302.7 374.8 1301.8 373.4C1301.0 372.1 1300.1 370.8 1299.4 369.4C1298.6 368.1 1297.9 366.7 1297.3 365.4C1296.7 364.1 1296.1 362.7 1295.6 361.4C1295.1 360.0 1294.7 358.7 1294.5 357.4C1294.2 356.0 1294.0 354.7 1293.9 353.3C1293.8 352.0 1293.8 350.6 1294.0 349.3C1294.2 348.0 1294.5 346.6 1295.0 345.3C1295.5 343.9 1296.1 342.6 1296.8 341.3C1297.6 339.9 1298.5 338.6 1299.5 337.2C1300.5 335.9 1301.6 334.6 1302.7 333.2C1303.9 331.9 1305.1 330.5 1306.4 329.2C1307.6 327.8 1309.0 326.5 1310.2 325.2C1311.5 323.8 1312.8 322.5 1314.0 321.1C1315.2 319.8 1316.4 318.5 1317.5 317.1C1318.5 315.8 1319.5 314.4 1320.5 313.1C1321.4 311.8 1322.2 310.4 1323.0 309.1C1323.8 307.7 1324.4 306.4 1325.1 305.0C1325.7 303.7 1326.2 302.4 1326.7 301.0C1327.1 299.7 1327.5 298.3 1327.9 297.0C1328.2 295.7 1328.5 294.3 1328.8 293.0C1329.1 291.6 1329.3 290.3 1329.5 289.0C1329.7 287.6 1329.9 286.3 1330.1 284.9C1330.3 283.6 1330.4 282.2 1330.6 280.9C1330.8 279.6 1330.9 278.2 1331.1 276.9C1331.3 275.5 1331.5 274.2 1331.7 272.9C1331.9 271.5 1332.2 270.2 1332.5 268.8C1332.8 267.5 1333.1 266.2 1333.4 264.8C1333.8 263.5 1334.2 262.1 1334.6 260.8C1335.0 259.5 1335.4 258.1 1335.9 256.8C1336.3 255.4 1336.8 254.1 1337.2 252.7C1337.7 251.4 1338.2 250.1 1338.7 248.7C1339.2 247.4 1339.5 246.6 1340.2 244.7C1340.9 242.8 1342.1 240.1 1342.9 237.2C1343.6 234.3 1344.4 230.1 1344.8 227.2C1345.1 224.3 1345.0 223.1 1344.8 219.8C1344.5 216.5 1344.2 211.5 1343.5 207.3C1342.9 203.1 1341.4 198.6 1340.8 194.8C1340.3 191.1 1340.1 189.0 1340.2 184.8C1340.4 180.7 1340.9 174.5 1341.5 169.9C1342.2 165.3 1343.6 163.4 1344.1 157.4C1344.7 151.4 1344.7 138.1 1344.8 134.2Z"/>
<path class="w" d="M1344.8 277.5V455.7"/>
<rect class="b" x="1334.6" y="336.6" width="20.9" height="50.1"/>
<path class="m" d="M1334.6 355.5H1355.5"/>
<circle cx="1344.8" cy="185.3" r="4.8" fill="#000"/>
<circle cx="1344.8" cy="260.1" r="4.8" fill="#000"/>
<path class="v" fill="#51b7cc" d="M1447.5 199.0C1447.5 202.5 1447.5 214.3 1447.8 219.8C1448.0 225.3 1448.3 228.0 1449.3 232.2C1450.2 236.3 1452.4 242.0 1453.3 244.7C1454.1 247.4 1454.1 247.4 1454.5 248.7C1454.9 250.0 1455.3 251.3 1455.8 252.7C1456.2 254.0 1456.6 255.3 1457.0 256.7C1457.4 258.0 1457.8 259.3 1458.3 260.6C1458.7 262.0 1459.1 263.3 1459.5 264.6C1460.0 266.0 1460.4 267.3 1460.8 268.6C1461.2 270.0 1461.7 271.3 1462.1 272.6C1462.5 273.9 1463.0 275.3 1463.4 276.6C1463.9 277.9 1464.3 279.3 1464.8 280.6C1465.2 281.9 1465.7 283.2 1466.2 284.6C1466.6 285.9 1467.1 287.2 1467.6 288.6C1468.1 289.9 1468.5 291.2 1469.0 292.5C1469.5 293.9 1470.0 295.2 1470.6 296.5C1471.1 297.9 1471.6 299.2 1472.1 300.5C1472.6 301.8 1473.2 303.2 1473.7 304.5C1474.3 305.8 1474.8 307.2 1475.4 308.5C1476.0 309.8 1476.5 311.1 1477.1 312.5C1477.7 313.8 1478.3 315.1 1478.9 316.5C1479.5 317.8 1480.0 319.1 1480.6 320.5C1481.2 321.8 1481.7 323.1 1482.3 324.4C1482.8 325.8 1483.4 327.1 1483.9 328.4C1484.4 329.8 1484.9 331.1 1485.3 332.4C1485.8 333.7 1486.2 335.1 1486.6 336.4C1487.0 337.7 1487.4 339.1 1487.8 340.4C1488.1 341.7 1488.4 343.0 1488.6 344.4C1488.9 345.7 1489.1 347.0 1489.3 348.4C1489.4 349.7 1489.6 351.0 1489.6 352.3C1489.7 353.7 1489.7 355.0 1489.7 356.3C1489.7 357.7 1489.6 359.0 1489.5 360.3C1489.4 361.7 1489.3 363.0 1489.1 364.3C1488.9 365.6 1488.7 367.0 1488.4 368.3C1488.1 369.6 1487.8 371.0 1487.5 372.3C1487.1 373.6 1486.7 374.9 1486.2 376.3C1485.8 377.6 1485.3 378.9 1484.7 380.3C1484.2 381.6 1483.6 382.9 1483.0 384.2C1482.4 385.6 1481.7 386.9 1481.0 388.2C1480.3 389.6 1479.6 390.9 1478.9 392.2C1478.1 393.5 1477.3 394.9 1476.6 396.2C1475.8 397.5 1475.0 398.9 1474.2 400.2C1473.4 401.5 1472.6 402.8 1471.8 404.2C1471.0 405.5 1470.1 406.8 1469.3 408.2C1468.6 409.5 1467.8 410.8 1467.0 412.2C1466.2 413.5 1465.5 414.8 1464.8 416.1C1464.0 417.5 1463.3 418.8 1462.7 420.1C1462.0 421.5 1461.4 422.8 1460.8 424.1C1460.2 425.4 1459.7 426.8 1459.1 428.1C1458.6 429.4 1458.1 430.8 1457.7 432.1C1457.3 433.4 1456.9 434.7 1456.5 436.1C1456.1 437.4 1455.8 438.7 1455.5 440.1C1455.3 441.4 1455.0 442.7 1454.8 444.0C1454.6 445.4 1454.5 446.7 1454.3 448.0C1454.2 449.4 1454.2 450.7 1454.1 452.0C1454.1 453.4 1454.0 454.7 1454.0 456.0C1454.1 457.3 1454.1 458.7 1454.1 460.0C1454.2 461.3 1454.2 462.7 1454.3 464.0C1454.4 465.3 1454.5 466.6 1454.6 468.0C1454.7 469.3 1454.8 470.6 1454.9 472.0C1455.0 473.3 1455.1 474.6 1455.2 475.9C1455.3 477.3 1455.3 478.6 1455.4 479.9C1455.5 481.3 1455.6 482.6 1455.6 483.9C1455.7 485.2 1455.7 486.6 1455.7 487.9C1455.7 489.2 1455.7 490.6 1455.7 491.9C1455.7 493.2 1455.6 494.5 1455.5 495.9C1455.4 497.2 1455.3 498.5 1455.1 499.9C1455.0 501.2 1454.8 502.5 1454.6 503.9C1454.4 505.2 1454.2 506.5 1454.0 507.8C1453.7 509.2 1453.5 510.5 1453.2 511.8C1452.9 513.2 1452.7 514.5 1452.4 515.8C1452.1 517.1 1452.1 517.1 1451.5 519.8C1450.9 522.5 1449.3 528.0 1448.6 532.2C1448.0 536.4 1447.7 539.5 1447.5 545.0C1447.3 550.5 1447.5 561.8 1447.5 565.1C1447.5 561.8 1447.7 550.5 1447.5 545.0C1447.3 539.5 1447.0 536.4 1446.4 532.2C1445.7 528.0 1444.1 522.5 1443.5 519.8C1442.9 517.1 1442.9 517.1 1442.6 515.8C1442.3 514.5 1442.1 513.2 1441.8 511.8C1441.5 510.5 1441.3 509.2 1441.0 507.8C1440.8 506.5 1440.6 505.2 1440.4 503.9C1440.2 502.5 1440.0 501.2 1439.9 499.9C1439.7 498.5 1439.6 497.2 1439.5 495.9C1439.4 494.5 1439.3 493.2 1439.3 491.9C1439.3 490.6 1439.3 489.2 1439.3 487.9C1439.3 486.6 1439.3 485.2 1439.4 483.9C1439.4 482.6 1439.5 481.3 1439.6 479.9C1439.7 478.6 1439.7 477.3 1439.8 475.9C1439.9 474.6 1440.0 473.3 1440.1 472.0C1440.2 470.6 1440.3 469.3 1440.4 468.0C1440.5 466.6 1440.6 465.3 1440.7 464.0C1440.8 462.7 1440.8 461.3 1440.9 460.0C1440.9 458.7 1440.9 457.3 1441.0 456.0C1441.0 454.7 1440.9 453.4 1440.9 452.0C1440.8 450.7 1440.8 449.4 1440.7 448.0C1440.5 446.7 1440.4 445.4 1440.2 444.0C1440.0 442.7 1439.7 441.4 1439.5 440.1C1439.2 438.7 1438.9 437.4 1438.5 436.1C1438.1 434.7 1437.7 433.4 1437.3 432.1C1436.9 430.8 1436.4 429.4 1435.9 428.1C1435.3 426.8 1434.8 425.4 1434.2 424.1C1433.6 422.8 1433.0 421.5 1432.3 420.1C1431.7 418.8 1431.0 417.5 1430.2 416.1C1429.5 414.8 1428.8 413.5 1428.0 412.2C1427.2 410.8 1426.4 409.5 1425.7 408.2C1424.9 406.8 1424.0 405.5 1423.2 404.2C1422.4 402.8 1421.6 401.5 1420.8 400.2C1420.0 398.9 1419.2 397.5 1418.4 396.2C1417.7 394.9 1416.9 393.5 1416.1 392.2C1415.4 390.9 1414.7 389.6 1414.0 388.2C1413.3 386.9 1412.6 385.6 1412.0 384.2C1411.4 382.9 1410.8 381.6 1410.3 380.3C1409.7 378.9 1409.2 377.6 1408.8 376.3C1408.3 374.9 1407.9 373.6 1407.5 372.3C1407.2 371.0 1406.9 369.6 1406.6 368.3C1406.3 367.0 1406.1 365.6 1405.9 364.3C1405.7 363.0 1405.6 361.7 1405.5 360.3C1405.4 359.0 1405.3 357.7 1405.3 356.3C1405.3 355.0 1405.3 353.7 1405.4 352.3C1405.4 351.0 1405.6 349.7 1405.7 348.4C1405.9 347.0 1406.1 345.7 1406.4 344.4C1406.6 343.0 1406.9 341.7 1407.2 340.4C1407.6 339.1 1408.0 337.7 1408.4 336.4C1408.8 335.1 1409.2 333.7 1409.7 332.4C1410.1 331.1 1410.6 329.8 1411.1 328.4C1411.6 327.1 1412.2 325.8 1412.7 324.4C1413.3 323.1 1413.8 321.8 1414.4 320.5C1415.0 319.1 1415.5 317.8 1416.1 316.5C1416.7 315.1 1417.3 313.8 1417.9 312.5C1418.5 311.1 1419.0 309.8 1419.6 308.5C1420.2 307.2 1420.7 305.8 1421.3 304.5C1421.8 303.2 1422.4 301.8 1422.9 300.5C1423.4 299.2 1423.9 297.9 1424.4 296.5C1425.0 295.2 1425.5 293.9 1426.0 292.5C1426.5 291.2 1426.9 289.9 1427.4 288.6C1427.9 287.2 1428.4 285.9 1428.8 284.6C1429.3 283.2 1429.8 281.9 1430.2 280.6C1430.7 279.3 1431.1 277.9 1431.6 276.6C1432.0 275.3 1432.5 273.9 1432.9 272.6C1433.3 271.3 1433.8 270.0 1434.2 268.6C1434.6 267.3 1435.0 266.0 1435.5 264.6C1435.9 263.3 1436.3 262.0 1436.7 260.6C1437.2 259.3 1437.6 258.0 1438.0 256.7C1438.4 255.3 1438.8 254.0 1439.2 252.7C1439.7 251.3 1440.1 250.0 1440.5 248.7C1440.9 247.4 1440.9 247.4 1441.7 244.7C1442.6 242.0 1444.8 236.3 1445.7 232.2C1446.7 228.0 1447.0 225.3 1447.2 219.8C1447.5 214.3 1447.5 202.5 1447.5 199.0Z"/>
<path class="w" d="M1447.5 268.4V492.3"/>
<rect class="b" x="1437.6" y="330.4" width="20.7" height="65.5"/>
<path class="m" d="M1437.6 358.5H1458.3"/>
<circle cx="1447.5" cy="496.0" r="4.8" fill="#000"/>
<rect x="1077.8" y="37.4" width="431.2" height="551.4" fill="none" stroke="#3a3a3a" stroke-width="1.5"/>
<path d="M1077.8 45.0h-6.2M1077.8 211.6h-6.2M1077.8 378.1h-6.2M1077.8 544.7h-6.2M1138.9 588.8v6.5M1242.0 588.8v6.5M1344.8 588.8v6.5M1447.5 588.8v6.5" stroke="#111" stroke-width="2" fill="none"/>
<text class="t" transform="translate(1074.01 22.00) scale(0.9286 1)" font-size="26.9">Extensor</text>
<text class="t" transform="translate(1453.94 22.00) scale(0.9253 1)" font-size="26.9">Age</text>
<text class="L" transform="translate(1088.78 85.10) scale(0.8112 1)" font-size="41.3">C</text>
<text class="k" transform="translate(1044.00 52.16) scale(0.9600 1)" font-size="22">40</text>
<text class="k" transform="translate(1044.00 218.66) scale(0.9600 1)" font-size="22">30</text>
<text class="k" transform="translate(1044.00 385.56) scale(0.9600 1)" font-size="22">20</text>
<text class="k" transform="translate(1044.00 552.36) scale(0.9600 1)" font-size="22">10</text>
<text class="s" transform="translate(1235.58 161.90)" font-size="22.5">*</text>
<text class="s" transform="translate(1330.22 126.40)" font-size="22.5">***</text>
<text class="s" transform="translate(1418.00 179.80) scale(0.9964 1)" font-size="22.5">***, #</text>
<text class="x" transform="translate(1060.96 624.20) scale(0.9790 1)" font-size="17.6" fill="#12307f" stroke="#12307f">Young T2DM</text>
<text class="x" transform="translate(1174.19 624.20) scale(1.0149 1)" font-size="17.6" fill="#f20a0a" stroke="#f20a0a">Old T2DM</text>
<text class="x" transform="translate(1283.46 624.20) scale(0.9565 1)" font-size="17.6" fill="#316f15" stroke="#316f15">Young Control</text>
<text class="x" transform="translate(1417.11 624.20) scale(0.9732 1)" font-size="17.6" fill="#18c8ee" stroke="#18c8ee">Old Control</text>
<text class="t" transform="translate(1034.20 0) rotate(-90)" xml:space="preserve"><tspan x="-387.54" y="0.00" font-size="28" textLength="43.70" lengthAdjust="spacingAndGlyphs">SMI</tspan><tspan font-size="28"> </tspan><tspan x="-334.09" y="0.00" font-size="28" textLength="10.40" lengthAdjust="spacingAndGlyphs">(</tspan><tspan x="-322.54" y="0.00" font-size="28" textLength="33.87" lengthAdjust="spacingAndGlyphs">cm</tspan><tspan x="-289.66" y="2.00" font-size="32" textLength="12.02" lengthAdjust="spacingAndGlyphs">²</tspan><tspan x="-276.90" y="4.00" font-size="35" textLength="11.87" lengthAdjust="spacingAndGlyphs" font-weight="normal" stroke-width=".6">/</tspan><tspan x="-265.34" y="0.00" font-size="28" textLength="24.79" lengthAdjust="spacingAndGlyphs">m</tspan><tspan x="-241.76" y="2.00" font-size="32" textLength="12.02" lengthAdjust="spacingAndGlyphs">²</tspan><tspan x="-229.66" y="0.00" font-size="28" textLength="9.11" lengthAdjust="spacingAndGlyphs">)</tspan></text>
</g>
<g>
<path class="v" fill="#4c7eaf" d="M1633.8 114.5C1633.8 117.1 1633.8 125.6 1633.8 130.0C1633.8 134.4 1633.8 137.7 1633.8 141.0C1633.8 144.3 1633.8 146.8 1634.0 150.0C1634.3 153.2 1635.0 156.3 1635.4 160.0C1635.9 163.7 1636.4 169.6 1636.7 172.3C1637.0 175.0 1637.0 175.0 1637.1 176.3C1637.3 177.6 1637.4 179.0 1637.6 180.3C1637.7 181.6 1637.9 183.0 1638.0 184.3C1638.2 185.6 1638.3 187.0 1638.5 188.3C1638.6 189.6 1638.8 191.0 1638.9 192.3C1639.1 193.6 1639.2 195.0 1639.4 196.3C1639.5 197.6 1639.6 199.0 1639.8 200.3C1639.9 201.6 1640.1 203.0 1640.2 204.3C1640.4 205.6 1640.5 207.0 1640.7 208.3C1640.8 209.6 1641.0 211.0 1641.1 212.3C1641.2 213.6 1641.4 215.0 1641.5 216.3C1641.7 217.6 1641.8 219.0 1642.0 220.3C1642.1 221.6 1642.3 223.0 1642.4 224.3C1642.6 225.6 1642.8 227.0 1642.9 228.3C1643.1 229.6 1643.3 231.0 1643.5 232.3C1643.7 233.6 1643.9 235.0 1644.1 236.3C1644.3 237.6 1644.5 239.0 1644.7 240.3C1644.9 241.6 1645.1 243.0 1645.4 244.3C1645.6 245.6 1645.9 247.0 1646.2 248.3C1646.4 249.6 1646.7 251.0 1647.0 252.3C1647.3 253.6 1647.6 255.0 1648.0 256.3C1648.3 257.6 1648.6 259.0 1649.0 260.3C1649.3 261.6 1649.7 263.0 1650.1 264.3C1650.4 265.6 1650.8 267.0 1651.2 268.3C1651.6 269.6 1652.0 271.0 1652.5 272.3C1652.9 273.6 1653.3 275.0 1653.8 276.3C1654.2 277.6 1654.7 279.0 1655.2 280.3C1655.7 281.6 1656.2 283.0 1656.7 284.3C1657.2 285.6 1657.7 287.0 1658.2 288.3C1658.7 289.6 1659.3 291.0 1659.8 292.3C1660.4 293.6 1660.9 295.0 1661.5 296.3C1662.1 297.6 1662.7 299.0 1663.3 300.3C1663.9 301.6 1664.5 303.0 1665.1 304.3C1665.7 305.6 1666.3 307.0 1666.9 308.3C1667.5 309.6 1668.1 311.0 1668.6 312.3C1669.2 313.6 1669.8 315.0 1670.3 316.3C1670.8 317.6 1671.3 319.0 1671.8 320.3C1672.3 321.6 1672.8 323.0 1673.2 324.3C1673.6 325.6 1674.0 327.0 1674.3 328.3C1674.7 329.6 1675.0 331.0 1675.2 332.3C1675.4 333.6 1675.6 335.0 1675.8 336.3C1675.9 337.6 1676.0 339.0 1676.0 340.3C1676.0 341.6 1676.0 343.0 1676.0 344.3C1675.9 345.6 1675.8 347.0 1675.6 348.3C1675.5 349.6 1675.3 351.0 1675.1 352.3C1674.8 353.6 1674.6 355.0 1674.3 356.3C1674.0 357.6 1673.7 359.0 1673.3 360.3C1673.0 361.6 1672.6 363.0 1672.2 364.3C1671.8 365.6 1671.4 367.0 1670.9 368.3C1670.5 369.6 1670.0 371.0 1669.5 372.3C1669.1 373.6 1668.6 375.0 1668.1 376.3C1667.6 377.6 1667.1 379.0 1666.6 380.3C1666.0 381.6 1665.5 383.0 1665.0 384.3C1664.5 385.6 1663.9 387.0 1663.4 388.3C1662.9 389.6 1662.3 391.0 1661.8 392.3C1661.3 393.6 1660.7 395.0 1660.2 396.3C1659.6 397.6 1659.1 399.0 1658.5 400.3C1658.0 401.6 1657.4 403.0 1656.8 404.3C1656.3 405.6 1655.7 407.0 1655.1 408.3C1654.6 409.6 1654.0 411.0 1653.4 412.3C1652.9 413.6 1652.3 415.0 1651.7 416.3C1651.2 417.6 1650.6 419.0 1650.0 420.3C1649.5 421.6 1648.9 423.0 1648.4 424.3C1647.8 425.6 1647.3 427.0 1646.8 428.3C1646.3 429.6 1645.7 431.0 1645.2 432.3C1644.8 433.6 1644.3 435.0 1643.8 436.3C1643.4 437.6 1642.9 439.0 1642.5 440.3C1642.1 441.6 1641.7 443.0 1641.3 444.3C1641.0 445.6 1640.7 447.0 1640.4 448.3C1640.1 449.6 1639.8 451.0 1639.5 452.3C1639.3 453.6 1639.1 455.0 1638.9 456.3C1638.8 457.6 1638.6 459.0 1638.5 460.3C1638.4 461.6 1638.3 463.0 1638.2 464.3C1638.1 465.6 1638.0 467.0 1638.0 468.3C1637.9 469.6 1638.0 469.6 1637.7 472.3C1637.4 475.1 1636.7 480.6 1636.2 484.8C1635.7 489.0 1635.2 493.1 1634.8 497.3C1634.4 501.5 1634.0 502.7 1633.8 510.0C1633.6 517.3 1633.8 535.8 1633.8 540.9C1633.8 535.8 1634.0 517.3 1633.8 510.0C1633.6 502.7 1633.2 501.5 1632.8 497.3C1632.4 493.1 1631.9 489.0 1631.4 484.8C1630.9 480.6 1630.2 475.1 1629.9 472.3C1629.6 469.6 1629.7 469.6 1629.6 468.3C1629.6 467.0 1629.5 465.6 1629.4 464.3C1629.3 463.0 1629.2 461.6 1629.1 460.3C1629.0 459.0 1628.8 457.6 1628.7 456.3C1628.5 455.0 1628.3 453.6 1628.1 452.3C1627.8 451.0 1627.5 449.6 1627.2 448.3C1626.9 447.0 1626.6 445.6 1626.3 444.3C1625.9 443.0 1625.5 441.6 1625.1 440.3C1624.7 439.0 1624.2 437.6 1623.8 436.3C1623.3 435.0 1622.8 433.6 1622.4 432.3C1621.9 431.0 1621.3 429.6 1620.8 428.3C1620.3 427.0 1619.8 425.6 1619.2 424.3C1618.7 423.0 1618.1 421.6 1617.6 420.3C1617.0 419.0 1616.4 417.6 1615.9 416.3C1615.3 415.0 1614.7 413.6 1614.2 412.3C1613.6 411.0 1613.0 409.6 1612.5 408.3C1611.9 407.0 1611.3 405.6 1610.8 404.3C1610.2 403.0 1609.6 401.6 1609.1 400.3C1608.5 399.0 1608.0 397.6 1607.4 396.3C1606.9 395.0 1606.3 393.6 1605.8 392.3C1605.3 391.0 1604.7 389.6 1604.2 388.3C1603.7 387.0 1603.1 385.6 1602.6 384.3C1602.1 383.0 1601.6 381.6 1601.0 380.3C1600.5 379.0 1600.0 377.6 1599.5 376.3C1599.0 375.0 1598.5 373.6 1598.1 372.3C1597.6 371.0 1597.1 369.6 1596.7 368.3C1596.2 367.0 1595.8 365.6 1595.4 364.3C1595.0 363.0 1594.6 361.6 1594.3 360.3C1593.9 359.0 1593.6 357.6 1593.3 356.3C1593.0 355.0 1592.8 353.6 1592.5 352.3C1592.3 351.0 1592.1 349.6 1592.0 348.3C1591.8 347.0 1591.7 345.6 1591.6 344.3C1591.6 343.0 1591.6 341.6 1591.6 340.3C1591.6 339.0 1591.7 337.6 1591.8 336.3C1592.0 335.0 1592.2 333.6 1592.4 332.3C1592.6 331.0 1592.9 329.6 1593.3 328.3C1593.6 327.0 1594.0 325.6 1594.4 324.3C1594.8 323.0 1595.3 321.6 1595.8 320.3C1596.3 319.0 1596.8 317.6 1597.3 316.3C1597.8 315.0 1598.4 313.6 1599.0 312.3C1599.5 311.0 1600.1 309.6 1600.7 308.3C1601.3 307.0 1601.9 305.6 1602.5 304.3C1603.1 303.0 1603.7 301.6 1604.3 300.3C1604.9 299.0 1605.5 297.6 1606.1 296.3C1606.7 295.0 1607.2 293.6 1607.8 292.3C1608.3 291.0 1608.9 289.6 1609.4 288.3C1609.9 287.0 1610.4 285.6 1610.9 284.3C1611.4 283.0 1611.9 281.6 1612.4 280.3C1612.9 279.0 1613.4 277.6 1613.8 276.3C1614.3 275.0 1614.7 273.6 1615.1 272.3C1615.6 271.0 1616.0 269.6 1616.4 268.3C1616.8 267.0 1617.2 265.6 1617.5 264.3C1617.9 263.0 1618.3 261.6 1618.6 260.3C1619.0 259.0 1619.3 257.6 1619.6 256.3C1620.0 255.0 1620.3 253.6 1620.6 252.3C1620.9 251.0 1621.2 249.6 1621.4 248.3C1621.7 247.0 1622.0 245.6 1622.2 244.3C1622.5 243.0 1622.7 241.6 1622.9 240.3C1623.1 239.0 1623.3 237.6 1623.5 236.3C1623.7 235.0 1623.9 233.6 1624.1 232.3C1624.3 231.0 1624.5 229.6 1624.7 228.3C1624.8 227.0 1625.0 225.6 1625.2 224.3C1625.3 223.0 1625.5 221.6 1625.6 220.3C1625.8 219.0 1625.9 217.6 1626.1 216.3C1626.2 215.0 1626.4 213.6 1626.5 212.3C1626.6 211.0 1626.8 209.6 1626.9 208.3C1627.1 207.0 1627.2 205.6 1627.4 204.3C1627.5 203.0 1627.7 201.6 1627.8 200.3C1628.0 199.0 1628.1 197.6 1628.2 196.3C1628.4 195.0 1628.5 193.6 1628.7 192.3C1628.8 191.0 1629.0 189.6 1629.1 188.3C1629.3 187.0 1629.4 185.6 1629.6 184.3C1629.7 183.0 1629.9 181.6 1630.0 180.3C1630.2 179.0 1630.3 177.6 1630.5 176.3C1630.6 175.0 1630.6 175.0 1630.9 172.3C1631.2 169.6 1631.7 163.7 1632.2 160.0C1632.6 156.3 1633.3 153.2 1633.5 150.0C1633.8 146.8 1633.8 144.3 1633.8 141.0C1633.8 137.7 1633.8 134.4 1633.8 130.0C1633.8 125.6 1633.8 117.1 1633.8 114.5Z"/>
<path class="w" d="M1633.8 237.7V468.6"/>
<rect class="b" x="1624.1" y="308.4" width="19.7" height="70.3"/>
<path class="m" d="M1624.1 342.8H1643.8"/>
<circle cx="1633.8" cy="186.8" r="4.3" fill="#000"/>
<path class="v" fill="#f24d4c" d="M1736.0 183.6C1736.2 188.0 1736.4 203.4 1737.0 209.8C1737.6 216.2 1738.9 219.5 1739.6 222.2C1740.3 224.9 1740.5 224.9 1741.0 226.2C1741.6 227.5 1742.1 228.8 1742.7 230.2C1743.3 231.5 1743.9 232.8 1744.5 234.1C1745.1 235.5 1745.8 236.8 1746.5 238.1C1747.1 239.4 1747.8 240.8 1748.5 242.1C1749.2 243.4 1749.9 244.7 1750.6 246.1C1751.3 247.4 1752.0 248.7 1752.7 250.1C1753.4 251.4 1754.1 252.7 1754.7 254.0C1755.4 255.4 1756.1 256.7 1756.7 258.0C1757.3 259.3 1757.9 260.7 1758.5 262.0C1759.0 263.3 1759.6 264.6 1760.1 266.0C1760.5 267.3 1761.0 268.6 1761.4 269.9C1761.7 271.3 1762.1 272.6 1762.3 273.9C1762.6 275.3 1762.8 276.6 1763.0 277.9C1763.2 279.2 1763.3 280.6 1763.5 281.9C1763.6 283.2 1763.7 284.5 1763.8 285.9C1764.0 287.2 1764.1 288.5 1764.2 289.8C1764.3 291.2 1764.5 292.5 1764.6 293.8C1764.7 295.1 1764.8 296.5 1765.0 297.8C1765.1 299.1 1765.2 300.4 1765.4 301.8C1765.5 303.1 1765.7 304.4 1765.8 305.8C1766.0 307.1 1766.1 308.4 1766.3 309.7C1766.4 311.1 1766.6 312.4 1766.7 313.7C1766.9 315.0 1767.1 316.4 1767.2 317.7C1767.4 319.0 1767.6 320.3 1767.8 321.7C1768.0 323.0 1768.1 324.3 1768.3 325.6C1768.5 327.0 1768.7 328.3 1768.9 329.6C1769.1 331.0 1769.3 332.3 1769.5 333.6C1769.7 334.9 1769.9 336.3 1770.1 337.6C1770.3 338.9 1770.4 340.2 1770.6 341.6C1770.8 342.9 1770.9 344.2 1771.1 345.5C1771.2 346.9 1771.3 348.2 1771.4 349.5C1771.6 350.8 1771.7 352.2 1771.7 353.5C1771.8 354.8 1771.9 356.2 1771.9 357.5C1771.9 358.8 1771.9 360.1 1771.9 361.5C1771.9 362.8 1771.9 364.1 1771.8 365.4C1771.7 366.8 1771.7 368.1 1771.5 369.4C1771.4 370.7 1771.3 372.1 1771.1 373.4C1771.0 374.7 1770.8 376.0 1770.6 377.4C1770.4 378.7 1770.1 380.0 1769.9 381.4C1769.6 382.7 1769.3 384.0 1769.0 385.3C1768.7 386.7 1768.4 388.0 1768.0 389.3C1767.7 390.6 1767.3 392.0 1766.9 393.3C1766.5 394.6 1766.1 395.9 1765.7 397.3C1765.2 398.6 1764.7 399.9 1764.3 401.2C1763.8 402.6 1763.3 403.9 1762.7 405.2C1762.2 406.6 1761.6 407.9 1761.0 409.2C1760.5 410.5 1759.9 411.9 1759.2 413.2C1758.6 414.5 1757.9 415.8 1757.3 417.2C1756.6 418.5 1755.9 419.8 1755.1 421.1C1754.4 422.5 1753.7 423.8 1752.9 425.1C1752.1 426.4 1751.3 427.8 1750.6 429.1C1749.8 430.4 1749.1 431.7 1748.4 433.1C1747.7 434.4 1747.1 435.7 1746.5 437.1C1745.9 438.4 1745.4 439.7 1745.0 441.0C1744.5 442.4 1744.1 443.7 1743.7 445.0C1743.3 446.3 1743.0 447.7 1742.7 449.0C1742.4 450.3 1742.2 451.6 1741.9 453.0C1741.7 454.3 1741.5 455.6 1741.4 456.9C1741.2 458.3 1741.0 459.6 1740.9 460.9C1740.8 462.3 1740.7 463.6 1740.6 464.9C1740.5 466.2 1740.4 467.6 1740.3 468.9C1740.2 470.2 1740.1 471.5 1740.0 472.9C1739.9 474.2 1739.8 475.5 1739.7 476.8C1739.6 478.2 1739.5 479.5 1739.4 480.8C1739.3 482.1 1739.4 482.1 1739.1 484.8C1738.8 487.5 1738.2 493.1 1737.8 497.3C1737.3 501.5 1736.5 505.4 1736.2 510.0C1736.0 514.6 1736.0 519.2 1736.0 525.0C1736.0 530.8 1736.0 541.4 1736.0 544.7C1736.0 541.4 1736.0 530.8 1736.0 525.0C1736.0 519.2 1736.0 514.6 1735.8 510.0C1735.5 505.4 1734.7 501.5 1734.2 497.3C1733.8 493.1 1733.2 487.5 1732.9 484.8C1732.6 482.1 1732.7 482.1 1732.6 480.8C1732.5 479.5 1732.4 478.2 1732.3 476.8C1732.2 475.5 1732.1 474.2 1732.0 472.9C1731.9 471.5 1731.8 470.2 1731.7 468.9C1731.6 467.6 1731.5 466.2 1731.4 464.9C1731.3 463.6 1731.2 462.3 1731.1 460.9C1731.0 459.6 1730.8 458.3 1730.6 456.9C1730.5 455.6 1730.3 454.3 1730.1 453.0C1729.8 451.6 1729.6 450.3 1729.3 449.0C1729.0 447.7 1728.7 446.3 1728.3 445.0C1727.9 443.7 1727.5 442.4 1727.0 441.0C1726.6 439.7 1726.1 438.4 1725.5 437.1C1724.9 435.7 1724.3 434.4 1723.6 433.1C1722.9 431.7 1722.2 430.4 1721.4 429.1C1720.7 427.8 1719.9 426.4 1719.1 425.1C1718.3 423.8 1717.6 422.5 1716.9 421.1C1716.1 419.8 1715.4 418.5 1714.7 417.2C1714.1 415.8 1713.4 414.5 1712.8 413.2C1712.1 411.9 1711.5 410.5 1711.0 409.2C1710.4 407.9 1709.8 406.6 1709.3 405.2C1708.7 403.9 1708.2 402.6 1707.7 401.2C1707.3 399.9 1706.8 398.6 1706.3 397.3C1705.9 395.9 1705.5 394.6 1705.1 393.3C1704.7 392.0 1704.3 390.6 1704.0 389.3C1703.6 388.0 1703.3 386.7 1703.0 385.3C1702.7 384.0 1702.4 382.7 1702.1 381.4C1701.9 380.0 1701.6 378.7 1701.4 377.4C1701.2 376.0 1701.0 374.7 1700.9 373.4C1700.7 372.1 1700.6 370.7 1700.5 369.4C1700.3 368.1 1700.3 366.8 1700.2 365.4C1700.1 364.1 1700.1 362.8 1700.1 361.5C1700.1 360.1 1700.1 358.8 1700.1 357.5C1700.1 356.2 1700.2 354.8 1700.3 353.5C1700.3 352.2 1700.4 350.8 1700.6 349.5C1700.7 348.2 1700.8 346.9 1700.9 345.5C1701.1 344.2 1701.2 342.9 1701.4 341.6C1701.6 340.2 1701.7 338.9 1701.9 337.6C1702.1 336.3 1702.3 334.9 1702.5 333.6C1702.7 332.3 1702.9 331.0 1703.1 329.6C1703.3 328.3 1703.5 327.0 1703.7 325.6C1703.9 324.3 1704.0 323.0 1704.2 321.7C1704.4 320.3 1704.6 319.0 1704.8 317.7C1704.9 316.4 1705.1 315.0 1705.3 313.7C1705.4 312.4 1705.6 311.1 1705.7 309.7C1705.9 308.4 1706.0 307.1 1706.2 305.8C1706.3 304.4 1706.5 303.1 1706.6 301.8C1706.8 300.4 1706.9 299.1 1707.0 297.8C1707.2 296.5 1707.3 295.1 1707.4 293.8C1707.5 292.5 1707.7 291.2 1707.8 289.8C1707.9 288.5 1708.0 287.2 1708.2 285.9C1708.3 284.5 1708.4 283.2 1708.5 281.9C1708.7 280.6 1708.8 279.2 1709.0 277.9C1709.2 276.6 1709.4 275.3 1709.7 273.9C1709.9 272.6 1710.3 271.3 1710.6 269.9C1711.0 268.6 1711.5 267.3 1711.9 266.0C1712.4 264.6 1713.0 263.3 1713.5 262.0C1714.1 260.7 1714.7 259.3 1715.3 258.0C1715.9 256.7 1716.6 255.4 1717.3 254.0C1717.9 252.7 1718.6 251.4 1719.3 250.1C1720.0 248.7 1720.7 247.4 1721.4 246.1C1722.1 244.7 1722.8 243.4 1723.5 242.1C1724.2 240.8 1724.9 239.4 1725.5 238.1C1726.2 236.8 1726.9 235.5 1727.5 234.1C1728.1 232.8 1728.7 231.5 1729.3 230.2C1729.9 228.8 1730.4 227.5 1731.0 226.2C1731.5 224.9 1731.7 224.9 1732.4 222.2C1733.1 219.5 1734.4 216.2 1735.0 209.8C1735.6 203.4 1735.8 188.0 1736.0 183.6Z"/>
<path class="w" d="M1736.0 254.6V472.3"/>
<rect class="b" x="1726.3" y="302.1" width="20.2" height="80.4"/>
<path class="m" d="M1726.3 344.8H1746.5"/>
<path class="v" fill="#7bcc7b" d="M1838.3 214.7C1838.3 218.0 1838.1 229.3 1838.5 234.7C1839.0 240.1 1839.9 243.0 1840.8 247.2C1841.8 251.4 1843.6 257.2 1844.5 260.0C1845.4 262.8 1845.6 262.7 1846.2 264.0C1846.8 265.4 1847.4 266.7 1848.0 268.0C1848.7 269.4 1849.3 270.7 1849.9 272.0C1850.6 273.4 1851.2 274.7 1851.8 276.1C1852.4 277.4 1853.0 278.7 1853.6 280.1C1854.2 281.4 1854.7 282.7 1855.2 284.1C1855.8 285.4 1856.2 286.8 1856.7 288.1C1857.1 289.4 1857.5 290.8 1857.9 292.1C1858.3 293.5 1858.7 294.8 1859.0 296.1C1859.3 297.5 1859.6 298.8 1859.9 300.1C1860.2 301.5 1860.5 302.8 1860.7 304.2C1861.0 305.5 1861.2 306.8 1861.5 308.2C1861.7 309.5 1861.9 310.8 1862.2 312.2C1862.4 313.5 1862.6 314.9 1862.8 316.2C1863.1 317.5 1863.3 318.9 1863.6 320.2C1863.8 321.6 1864.1 322.9 1864.4 324.2C1864.6 325.6 1864.9 326.9 1865.2 328.2C1865.5 329.6 1865.9 330.9 1866.2 332.3C1866.5 333.6 1866.9 334.9 1867.3 336.3C1867.7 337.6 1868.1 338.9 1868.5 340.3C1868.9 341.6 1869.3 343.0 1869.8 344.3C1870.3 345.6 1870.8 347.0 1871.3 348.3C1871.8 349.7 1872.4 351.0 1872.9 352.3C1873.5 353.7 1874.1 355.0 1874.8 356.3C1875.4 357.7 1876.1 359.0 1876.8 360.4C1877.4 361.7 1878.2 363.0 1878.9 364.4C1879.6 365.7 1880.4 367.0 1881.1 368.4C1881.8 369.7 1882.6 371.1 1883.3 372.4C1883.9 373.7 1884.6 375.1 1885.2 376.4C1885.8 377.8 1886.3 379.1 1886.8 380.4C1887.2 381.8 1887.6 383.1 1887.9 384.4C1888.2 385.8 1888.4 387.1 1888.5 388.5C1888.6 389.8 1888.6 391.1 1888.5 392.5C1888.3 393.8 1888.1 395.1 1887.8 396.5C1887.5 397.8 1887.1 399.2 1886.5 400.5C1886.0 401.8 1885.4 403.2 1884.6 404.5C1883.9 405.9 1883.0 407.2 1882.1 408.5C1881.1 409.9 1880.0 411.2 1878.9 412.5C1877.7 413.9 1876.4 415.2 1875.1 416.6C1873.8 417.9 1872.5 419.2 1871.1 420.6C1869.7 421.9 1868.2 423.2 1866.8 424.6C1865.4 425.9 1864.0 427.3 1862.7 428.6C1861.3 429.9 1860.0 431.3 1858.7 432.6C1857.5 434.0 1856.3 435.3 1855.2 436.6C1854.1 438.0 1853.1 439.3 1852.2 440.6C1851.2 442.0 1850.4 443.3 1849.6 444.7C1848.9 446.0 1848.2 447.3 1847.5 448.7C1846.9 450.0 1846.3 451.3 1845.8 452.7C1845.3 454.0 1844.9 455.4 1844.5 456.7C1844.1 458.0 1843.8 459.4 1843.5 460.7C1843.1 462.1 1842.9 463.4 1842.7 464.7C1842.5 466.1 1842.3 467.4 1842.1 468.7C1842.0 470.1 1841.9 471.4 1841.8 472.8C1841.7 474.1 1841.6 475.4 1841.6 476.8C1841.5 478.1 1841.5 479.4 1841.4 480.8C1841.4 482.1 1841.4 482.0 1841.4 484.8C1841.3 487.6 1841.3 493.1 1841.0 497.3C1840.8 501.5 1840.3 505.6 1839.9 509.8C1839.5 514.0 1838.9 518.0 1838.6 522.2C1838.4 526.4 1838.4 529.0 1838.3 535.0C1838.2 541.0 1838.3 554.5 1838.3 558.4C1838.3 554.5 1838.4 541.0 1838.3 535.0C1838.2 529.0 1838.2 526.4 1838.0 522.2C1837.7 518.0 1837.1 514.0 1836.7 509.8C1836.3 505.6 1835.8 501.5 1835.5 497.3C1835.3 493.1 1835.3 487.6 1835.2 484.8C1835.2 482.0 1835.2 482.1 1835.2 480.8C1835.1 479.4 1835.1 478.1 1835.0 476.8C1835.0 475.4 1834.9 474.1 1834.8 472.8C1834.7 471.4 1834.6 470.1 1834.5 468.7C1834.3 467.4 1834.1 466.1 1833.9 464.7C1833.7 463.4 1833.5 462.1 1833.1 460.7C1832.8 459.4 1832.5 458.0 1832.1 456.7C1831.7 455.4 1831.3 454.0 1830.8 452.7C1830.3 451.3 1829.7 450.0 1829.1 448.7C1828.4 447.3 1827.7 446.0 1827.0 444.7C1826.2 443.3 1825.4 442.0 1824.4 440.6C1823.5 439.3 1822.5 438.0 1821.4 436.6C1820.3 435.3 1819.1 434.0 1817.9 432.6C1816.6 431.3 1815.3 429.9 1813.9 428.6C1812.6 427.3 1811.2 425.9 1809.8 424.6C1808.4 423.2 1806.9 421.9 1805.5 420.6C1804.1 419.2 1802.8 417.9 1801.5 416.6C1800.2 415.2 1798.9 413.9 1797.7 412.5C1796.6 411.2 1795.5 409.9 1794.5 408.5C1793.6 407.2 1792.7 405.9 1792.0 404.5C1791.2 403.2 1790.6 401.8 1790.1 400.5C1789.5 399.2 1789.1 397.8 1788.8 396.5C1788.5 395.1 1788.3 393.8 1788.1 392.5C1788.0 391.1 1788.0 389.8 1788.1 388.5C1788.2 387.1 1788.4 385.8 1788.7 384.4C1789.0 383.1 1789.4 381.8 1789.8 380.4C1790.3 379.1 1790.8 377.8 1791.4 376.4C1792.0 375.1 1792.7 373.7 1793.3 372.4C1794.0 371.1 1794.8 369.7 1795.5 368.4C1796.2 367.0 1797.0 365.7 1797.7 364.4C1798.4 363.0 1799.2 361.7 1799.8 360.4C1800.5 359.0 1801.2 357.7 1801.8 356.3C1802.5 355.0 1803.1 353.7 1803.7 352.3C1804.2 351.0 1804.8 349.7 1805.3 348.3C1805.8 347.0 1806.3 345.6 1806.8 344.3C1807.3 343.0 1807.7 341.6 1808.1 340.3C1808.5 338.9 1808.9 337.6 1809.3 336.3C1809.7 334.9 1810.1 333.6 1810.4 332.3C1810.7 330.9 1811.1 329.6 1811.4 328.2C1811.7 326.9 1812.0 325.6 1812.2 324.2C1812.5 322.9 1812.8 321.6 1813.0 320.2C1813.3 318.9 1813.5 317.5 1813.8 316.2C1814.0 314.9 1814.2 313.5 1814.4 312.2C1814.7 310.8 1814.9 309.5 1815.1 308.2C1815.4 306.8 1815.6 305.5 1815.9 304.2C1816.1 302.8 1816.4 301.5 1816.7 300.1C1817.0 298.8 1817.3 297.5 1817.6 296.1C1817.9 294.8 1818.3 293.5 1818.7 292.1C1819.1 290.8 1819.5 289.4 1819.9 288.1C1820.4 286.8 1820.8 285.4 1821.4 284.1C1821.9 282.7 1822.4 281.4 1823.0 280.1C1823.6 278.7 1824.2 277.4 1824.8 276.1C1825.4 274.7 1826.0 273.4 1826.7 272.0C1827.3 270.7 1827.9 269.4 1828.6 268.0C1829.2 266.7 1829.8 265.4 1830.4 264.0C1831.0 262.7 1831.2 262.8 1832.1 260.0C1833.0 257.2 1834.8 251.4 1835.8 247.2C1836.7 243.0 1837.6 240.1 1838.0 234.7C1838.5 229.3 1838.3 218.0 1838.3 214.7Z"/>
<path class="w" d="M1838.3 278.0V494.3"/>
<rect class="b" x="1828.3" y="340.3" width="20.2" height="62.1"/>
<path class="m" d="M1828.3 377.2H1848.5"/>
<path class="v" fill="#51b7cc" d="M1940.5 244.2C1940.5 246.8 1940.6 255.3 1940.8 260.0C1940.9 264.7 1940.8 268.3 1941.5 272.5C1942.1 276.7 1943.9 282.2 1944.7 285.0C1945.6 287.8 1945.8 287.7 1946.3 289.0C1946.9 290.4 1947.5 291.7 1948.1 293.0C1948.8 294.4 1949.4 295.7 1950.1 297.1C1950.8 298.4 1951.5 299.7 1952.3 301.1C1953.0 302.4 1953.8 303.8 1954.5 305.1C1955.3 306.4 1956.1 307.8 1956.9 309.1C1957.7 310.5 1958.5 311.8 1959.3 313.1C1960.1 314.5 1960.9 315.8 1961.8 317.2C1962.6 318.5 1963.4 319.8 1964.2 321.2C1965.0 322.5 1965.8 323.9 1966.6 325.2C1967.4 326.5 1968.2 327.9 1969.0 329.2C1969.8 330.6 1970.6 331.9 1971.3 333.2C1972.1 334.6 1972.8 335.9 1973.5 337.3C1974.2 338.6 1974.9 339.9 1975.5 341.3C1976.2 342.6 1976.8 344.0 1977.4 345.3C1978.0 346.6 1978.5 348.0 1979.0 349.3C1979.6 350.7 1980.0 352.0 1980.5 353.3C1980.9 354.7 1981.3 356.0 1981.7 357.4C1982.1 358.7 1982.4 360.0 1982.8 361.4C1983.1 362.7 1983.4 364.1 1983.6 365.4C1983.9 366.7 1984.1 368.1 1984.3 369.4C1984.5 370.8 1984.7 372.1 1984.8 373.4C1985.0 374.8 1985.1 376.1 1985.2 377.5C1985.3 378.8 1985.3 380.1 1985.4 381.5C1985.4 382.8 1985.5 384.2 1985.4 385.5C1985.4 386.8 1985.4 388.2 1985.3 389.5C1985.3 390.9 1985.2 392.2 1985.0 393.5C1984.9 394.9 1984.7 396.2 1984.5 397.6C1984.3 398.9 1984.1 400.2 1983.8 401.6C1983.5 402.9 1983.2 404.3 1982.8 405.6C1982.4 407.0 1982.0 408.3 1981.5 409.6C1981.1 411.0 1980.5 412.3 1980.0 413.7C1979.4 415.0 1978.8 416.3 1978.1 417.7C1977.4 419.0 1976.7 420.4 1975.9 421.7C1975.2 423.0 1974.4 424.4 1973.6 425.7C1972.8 427.1 1971.9 428.4 1971.1 429.7C1970.2 431.1 1969.4 432.4 1968.5 433.8C1967.7 435.1 1966.8 436.4 1966.0 437.8C1965.1 439.1 1964.3 440.5 1963.5 441.8C1962.7 443.1 1961.9 444.5 1961.1 445.8C1960.4 447.2 1959.6 448.5 1959.0 449.8C1958.3 451.2 1957.6 452.5 1957.0 453.9C1956.4 455.2 1955.9 456.5 1955.3 457.9C1954.8 459.2 1954.3 460.6 1953.8 461.9C1953.3 463.2 1952.9 464.6 1952.5 465.9C1952.1 467.3 1951.7 468.6 1951.3 469.9C1951.0 471.3 1950.6 472.6 1950.3 474.0C1950.0 475.3 1949.7 476.6 1949.5 478.0C1949.2 479.3 1949.0 480.7 1948.7 482.0C1948.5 483.3 1948.3 484.7 1948.1 486.0C1947.9 487.4 1947.8 488.7 1947.6 490.0C1947.5 491.4 1947.3 492.7 1947.2 494.1C1947.0 495.4 1946.9 496.7 1946.8 498.1C1946.7 499.4 1946.5 500.8 1946.4 502.1C1946.3 503.4 1946.2 504.8 1946.1 506.1C1945.9 507.5 1945.8 508.8 1945.7 510.1C1945.6 511.5 1945.4 512.8 1945.3 514.2C1945.1 515.5 1945.0 516.8 1944.8 518.2C1944.6 519.5 1944.5 520.2 1944.2 522.2C1943.9 524.2 1943.2 527.4 1942.7 530.0C1942.2 532.6 1941.5 535.0 1941.2 538.0C1940.8 541.0 1940.6 544.1 1940.5 548.0C1940.4 551.9 1940.5 559.2 1940.5 561.4C1940.5 559.2 1940.6 551.9 1940.5 548.0C1940.4 544.1 1940.2 541.0 1939.8 538.0C1939.5 535.0 1938.8 532.6 1938.3 530.0C1937.8 527.4 1937.1 524.2 1936.8 522.2C1936.5 520.2 1936.4 519.5 1936.2 518.2C1936.0 516.8 1935.9 515.5 1935.7 514.2C1935.6 512.8 1935.4 511.5 1935.3 510.1C1935.2 508.8 1935.1 507.5 1934.9 506.1C1934.8 504.8 1934.7 503.4 1934.6 502.1C1934.5 500.8 1934.3 499.4 1934.2 498.1C1934.1 496.7 1934.0 495.4 1933.8 494.1C1933.7 492.7 1933.5 491.4 1933.4 490.0C1933.2 488.7 1933.1 487.4 1932.9 486.0C1932.7 484.7 1932.5 483.3 1932.3 482.0C1932.0 480.7 1931.8 479.3 1931.5 478.0C1931.3 476.6 1931.0 475.3 1930.7 474.0C1930.4 472.6 1930.0 471.3 1929.7 469.9C1929.3 468.6 1928.9 467.3 1928.5 465.9C1928.1 464.6 1927.7 463.2 1927.2 461.9C1926.7 460.6 1926.2 459.2 1925.7 457.9C1925.1 456.5 1924.6 455.2 1924.0 453.9C1923.4 452.5 1922.7 451.2 1922.0 449.8C1921.4 448.5 1920.6 447.2 1919.9 445.8C1919.1 444.5 1918.3 443.1 1917.5 441.8C1916.7 440.5 1915.9 439.1 1915.0 437.8C1914.2 436.4 1913.3 435.1 1912.5 433.8C1911.6 432.4 1910.8 431.1 1909.9 429.7C1909.1 428.4 1908.2 427.1 1907.4 425.7C1906.6 424.4 1905.8 423.0 1905.1 421.7C1904.3 420.4 1903.6 419.0 1902.9 417.7C1902.2 416.3 1901.6 415.0 1901.0 413.7C1900.5 412.3 1899.9 411.0 1899.5 409.6C1899.0 408.3 1898.6 407.0 1898.2 405.6C1897.8 404.3 1897.5 402.9 1897.2 401.6C1896.9 400.2 1896.7 398.9 1896.5 397.6C1896.3 396.2 1896.1 394.9 1896.0 393.5C1895.8 392.2 1895.7 390.9 1895.7 389.5C1895.6 388.2 1895.6 386.8 1895.6 385.5C1895.5 384.2 1895.6 382.8 1895.6 381.5C1895.7 380.1 1895.7 378.8 1895.8 377.5C1895.9 376.1 1896.0 374.8 1896.2 373.4C1896.3 372.1 1896.5 370.8 1896.7 369.4C1896.9 368.1 1897.1 366.7 1897.4 365.4C1897.6 364.1 1897.9 362.7 1898.2 361.4C1898.6 360.0 1898.9 358.7 1899.3 357.4C1899.7 356.0 1900.1 354.7 1900.5 353.3C1901.0 352.0 1901.4 350.7 1902.0 349.3C1902.5 348.0 1903.0 346.6 1903.6 345.3C1904.2 344.0 1904.8 342.6 1905.5 341.3C1906.1 339.9 1906.8 338.6 1907.5 337.3C1908.2 335.9 1908.9 334.6 1909.7 333.2C1910.4 331.9 1911.2 330.6 1912.0 329.2C1912.8 327.9 1913.6 326.5 1914.4 325.2C1915.2 323.9 1916.0 322.5 1916.8 321.2C1917.6 319.8 1918.4 318.5 1919.2 317.2C1920.1 315.8 1920.9 314.5 1921.7 313.1C1922.5 311.8 1923.3 310.5 1924.1 309.1C1924.9 307.8 1925.7 306.4 1926.5 305.1C1927.2 303.8 1928.0 302.4 1928.7 301.1C1929.5 299.7 1930.2 298.4 1930.9 297.1C1931.6 295.7 1932.2 294.4 1932.9 293.0C1933.5 291.7 1934.1 290.4 1934.7 289.0C1935.2 287.7 1935.4 287.8 1936.3 285.0C1937.1 282.2 1938.9 276.7 1939.5 272.5C1940.2 268.3 1940.1 264.7 1940.2 260.0C1940.4 255.3 1940.5 246.8 1940.5 244.2Z"/>
<path class="w" d="M1940.5 304.9V500.3"/>
<rect class="b" x="1930.5" y="362.0" width="20.2" height="57.5"/>
<path class="m" d="M1930.5 388.9H1950.7"/>
<rect x="1573.0" y="37.5" width="428.2" height="547.6" fill="none" stroke="#444" stroke-width="1.5"/>
<path d="M1573.0 191.0h-6.2M1573.0 357.5h-6.2M1573.0 524.3h-6.2M1633.8 585.1v6.5M1736.0 585.1v6.5M1838.3 585.1v6.5M1940.5 585.1v6.5" stroke="#111" stroke-width="2" fill="none"/>
<text class="t" transform="translate(1568.05 22.00) scale(0.8997 1)" font-size="26.9">Flexors</text>
<text class="t" transform="translate(1952.94 22.00) scale(0.9232 1)" font-size="26.9">Age</text>
<text class="L" transform="translate(1585.91 84.80) scale(0.8950 1)" font-size="41.3">D</text>
<text class="k" transform="translate(1540.14 198.59) scale(0.9400 1)" font-size="21.8">15</text>
<text class="k" transform="translate(1539.91 364.99) scale(0.9400 1)" font-size="21.8">10</text>
<text class="k" transform="translate(1549.62 531.29) scale(0.9400 1)" font-size="21.8">5</text>
<text class="s" transform="translate(1823.10 203.00) scale(1.0037 1)" font-size="22.5">*,#</text>
<text class="s" transform="translate(1913.81 226.70) scale(0.9879 1)" font-size="22.5">**,##</text>
<text class="x" transform="translate(1555.96 619.80) scale(0.9790 1)" font-size="17.6" fill="#12307f" stroke="#12307f">Young T2DM</text>
<text class="x" transform="translate(1676.39 619.80) scale(1.0137 1)" font-size="17.6" fill="#f20a0a" stroke="#f20a0a">Old T2DM</text>
<text class="x" transform="translate(1777.96 619.80) scale(0.9607 1)" font-size="17.6" fill="#316f15" stroke="#316f15">Young Control</text>
<text class="x" transform="translate(1912.11 619.80) scale(0.9806 1)" font-size="17.6" fill="#18c8ee" stroke="#18c8ee">Old Control</text>
</g>
</svg></body></html>
